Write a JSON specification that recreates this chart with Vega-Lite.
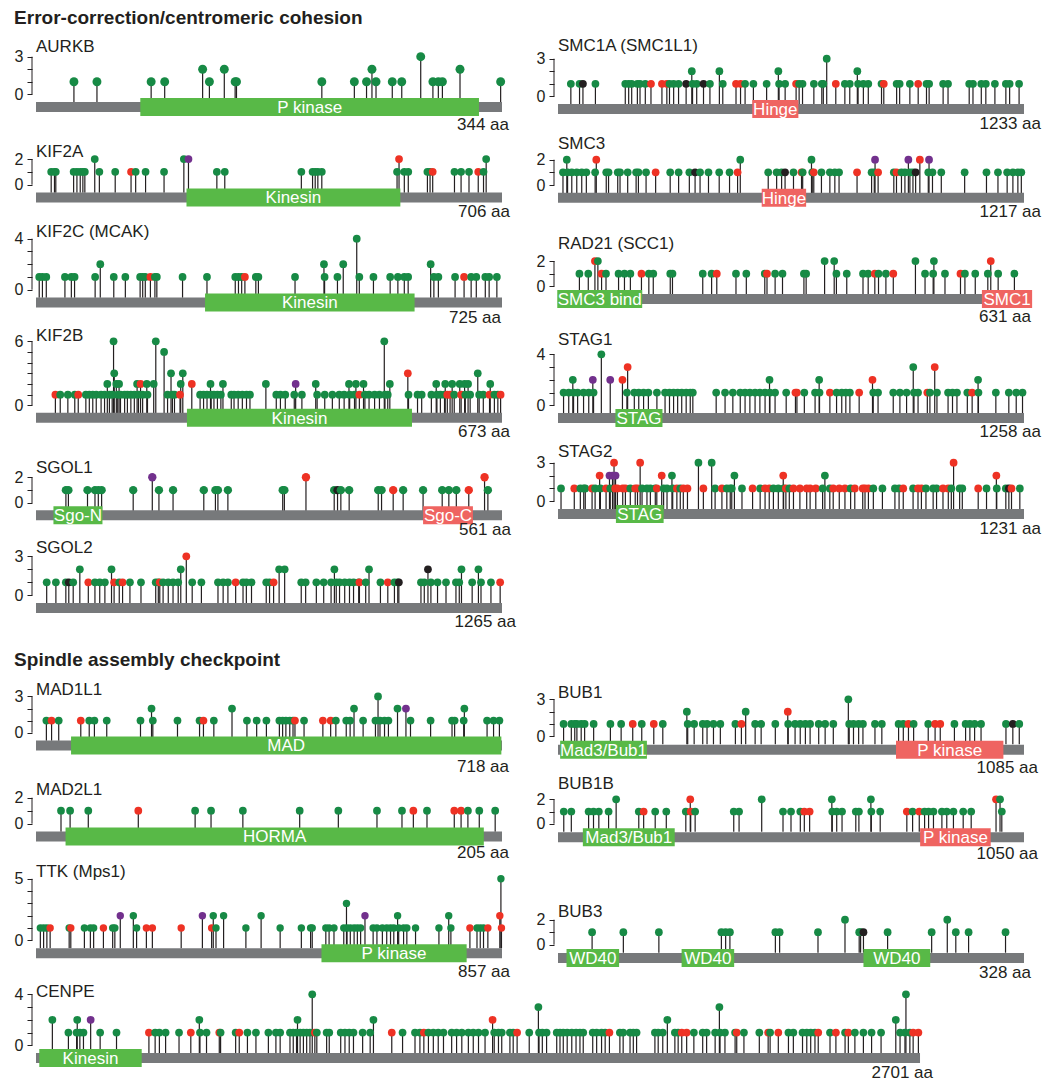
{
"$schema":"https://vega.github.io/schema/vega-lite/v6.json",
"padding":{"left":14,"top":9,"right":5,"bottom":0},
"title":{"text":"Error-correction/centromeric cohesion","anchor":"start","frame":"bounds","fontSize":19,"fontWeight":"bold","color":"#231f20","offset":-6,"baseline":"alphabetic","font":"Liberation Sans"},
"bounds":"flush",
"align":{"row":"each","column":"none"},
"spacing":{"row":0,"column":56},
"columns":2,
"datasets":{
"prot":[
{"gene":"AURKB","name":"AURKB","len":344},{"gene":"KIF2A","name":"KIF2A","len":706},{"gene":"KIF2C","name":"KIF2C (MCAK)","len":725},{"gene":"KIF2B","name":"KIF2B","len":673},{"gene":"SGOL1","name":"SGOL1","len":561},{"gene":"SGOL2","name":"SGOL2","len":1265},{"gene":"SMC1A","name":"SMC1A (SMC1L1)","len":1233},{"gene":"SMC3","name":"SMC3","len":1217},{"gene":"RAD21","name":"RAD21 (SCC1)","len":631},{"gene":"STAG1","name":"STAG1","len":1258},{"gene":"STAG2","name":"STAG2","len":1231},{"gene":"MAD1L1","name":"MAD1L1","len":718},{"gene":"MAD2L1","name":"MAD2L1","len":205},{"gene":"TTK","name":"TTK (Mps1)","len":857},{"gene":"CENPE","name":"CENPE","len":2701},{"gene":"BUB1","name":"BUB1","len":1085},{"gene":"BUB1B","name":"BUB1B","len":1050},{"gene":"BUB3","name":"BUB3","len":328}],
"dom":[
{"gene":"AURKB","name":"P kinase","s":77,"e":327,"kind":"A"},
{"gene":"KIF2A","name":"Kinesin","s":228,"e":552,"kind":"A"},
{"gene":"KIF2C","name":"Kinesin","s":263,"e":589,"kind":"A"},
{"gene":"KIF2B","name":"Kinesin","s":218,"e":543,"kind":"A"},
{"gene":"SGOL1","name":"Sgo-N","s":21,"e":80,"kind":"A"},
{"gene":"SGOL1","name":"Sgo-C","s":466,"e":526,"kind":"B"},
{"gene":"SMC1A","name":"Hinge","s":514,"e":636,"kind":"B"},
{"gene":"SMC3","name":"Hinge","s":532,"e":648,"kind":"B"},
{"gene":"RAD21","name":"SMC3 bind","s":-1,"e":114,"kind":"A"},
{"gene":"RAD21","name":"SMC1","s":574,"e":642,"kind":"B"},
{"gene":"STAG1","name":"STAG","s":155,"e":282,"kind":"A"},
{"gene":"STAG2","name":"STAG","s":153,"e":279,"kind":"A"},
{"gene":"MAD1L1","name":"MAD","s":54,"e":717,"kind":"A"},
{"gene":"MAD2L1","name":"HORMA","s":13,"e":197,"kind":"A"},
{"gene":"TTK","name":"P kinase","s":525,"e":792,"kind":"A"},
{"gene":"CENPE","name":"Kinesin","s":10,"e":323,"kind":"A"},
{"gene":"BUB1","name":"Mad3/Bub1","s":5,"e":207,"kind":"A"},
{"gene":"BUB1","name":"P kinase","s":787,"e":1037,"kind":"B"},
{"gene":"BUB1B","name":"Mad3/Bub1","s":56,"e":263,"kind":"A"},
{"gene":"BUB1B","name":"P kinase","s":816,"e":975,"kind":"B"},
{"gene":"BUB3","name":"WD40","s":6,"e":43,"kind":"A"},
{"gene":"BUB3","name":"WD40","s":87,"e":124,"kind":"A"},
{"gene":"BUB3","name":"WD40","s":215,"e":262,"kind":"A"}],
"AURKB":[{"p":28,"n":1,"t":"M"},{"p":45,"n":1,"t":"M"},{"p":85,"n":1,"t":"M"},{"p":95,"n":1,"t":"M"},{"p":123,"n":2,"t":"M"},{"p":128,"n":1,"t":"M"},{"p":139,"n":2,"t":"M"},{"p":147,"n":1,"t":"M"},{"p":148,"n":1,"t":"M"},{"p":211,"n":1,"t":"M"},{"p":235,"n":1,"t":"M"},{"p":244,"n":1,"t":"M"},{"p":248,"n":2,"t":"M"},{"p":251,"n":1,"t":"M"},{"p":263,"n":1,"t":"M"},{"p":270,"n":1,"t":"M"},{"p":284,"n":3,"t":"M"},{"p":293,"n":1,"t":"M"},{"p":297,"n":1,"t":"M"},{"p":300,"n":1,"t":"M"},{"p":313,"n":2,"t":"M"},{"p":343,"n":1,"t":"M"}],
"KIF2A":[{"p":23,"n":1,"t":"M"},{"p":28,"n":1,"t":"M"},{"p":30,"n":1,"t":"M"},{"p":57,"n":1,"t":"M"},{"p":62,"n":1,"t":"M"},{"p":67,"n":1,"t":"M"},{"p":71,"n":1,"t":"M"},{"p":74,"n":1,"t":"M"},{"p":89,"n":2,"t":"M"},{"p":96,"n":1,"t":"M"},{"p":120,"n":1,"t":"M"},{"p":144,"n":1,"t":"T"},{"p":151,"n":1,"t":"M"},{"p":166,"n":1,"t":"M"},{"p":194,"n":1,"t":"M"},{"p":224,"n":2,"t":"M"},{"p":231,"n":2,"t":"I"},{"p":274,"n":1,"t":"M"},{"p":286,"n":1,"t":"M"},{"p":402,"n":1,"t":"M"},{"p":419,"n":1,"t":"M"},{"p":423,"n":1,"t":"M"},{"p":427,"n":1,"t":"M"},{"p":433,"n":1,"t":"M"},{"p":547,"n":1,"t":"M"},{"p":550,"n":2,"t":"T"},{"p":558,"n":1,"t":"M"},{"p":564,"n":1,"t":"M"},{"p":593,"n":1,"t":"M"},{"p":597,"n":1,"t":"M"},{"p":601,"n":1,"t":"T"},{"p":634,"n":1,"t":"M"},{"p":644,"n":1,"t":"M"},{"p":656,"n":1,"t":"M"},{"p":670,"n":1,"t":"T"},{"p":678,"n":1,"t":"M"},{"p":682,"n":2,"t":"M"}],
"KIF2C":[{"p":5,"n":1,"t":"M"},{"p":10,"n":1,"t":"M"},{"p":16,"n":1,"t":"M"},{"p":45,"n":1,"t":"M"},{"p":55,"n":1,"t":"M"},{"p":60,"n":1,"t":"M"},{"p":92,"n":1,"t":"M"},{"p":100,"n":2,"t":"M"},{"p":121,"n":1,"t":"M"},{"p":139,"n":1,"t":"M"},{"p":162,"n":1,"t":"M"},{"p":166,"n":1,"t":"M"},{"p":170,"n":1,"t":"M"},{"p":178,"n":1,"t":"T"},{"p":185,"n":1,"t":"M"},{"p":188,"n":1,"t":"M"},{"p":228,"n":1,"t":"M"},{"p":266,"n":1,"t":"M"},{"p":310,"n":1,"t":"M"},{"p":315,"n":1,"t":"M"},{"p":320,"n":1,"t":"M"},{"p":325,"n":1,"t":"T"},{"p":342,"n":1,"t":"M"},{"p":346,"n":1,"t":"M"},{"p":403,"n":1,"t":"M"},{"p":448,"n":2,"t":"M"},{"p":449,"n":1,"t":"M"},{"p":469,"n":1,"t":"M"},{"p":478,"n":2,"t":"M"},{"p":499,"n":4,"t":"M"},{"p":503,"n":1,"t":"M"},{"p":525,"n":1,"t":"M"},{"p":551,"n":1,"t":"M"},{"p":563,"n":1,"t":"M"},{"p":573,"n":1,"t":"M"},{"p":579,"n":1,"t":"M"},{"p":614,"n":2,"t":"M"},{"p":619,"n":1,"t":"M"},{"p":626,"n":1,"t":"M"},{"p":652,"n":1,"t":"M"},{"p":666,"n":1,"t":"T"},{"p":677,"n":1,"t":"M"},{"p":685,"n":1,"t":"M"},{"p":699,"n":1,"t":"M"},{"p":705,"n":1,"t":"M"},{"p":717,"n":1,"t":"M"}],
"KIF2B":[{"p":28,"n":1,"t":"T"},{"p":35,"n":1,"t":"M"},{"p":46,"n":1,"t":"M"},{"p":56,"n":1,"t":"M"},{"p":61,"n":1,"t":"T"},{"p":72,"n":1,"t":"M"},{"p":77,"n":1,"t":"M"},{"p":82,"n":1,"t":"M"},{"p":87,"n":1,"t":"M"},{"p":94,"n":1,"t":"M"},{"p":99,"n":1,"t":"M"},{"p":103,"n":2,"t":"M"},{"p":106,"n":1,"t":"M"},{"p":110,"n":1,"t":"M"},{"p":112,"n":6,"t":"M"},{"p":113,"n":3,"t":"M"},{"p":116,"n":2,"t":"M"},{"p":118,"n":1,"t":"M"},{"p":120,"n":2,"t":"M"},{"p":122,"n":1,"t":"M"},{"p":128,"n":1,"t":"M"},{"p":132,"n":1,"t":"M"},{"p":137,"n":1,"t":"M"},{"p":142,"n":1,"t":"M"},{"p":146,"n":2,"t":"M"},{"p":148,"n":1,"t":"M"},{"p":151,"n":2,"t":"T"},{"p":154,"n":1,"t":"M"},{"p":160,"n":2,"t":"M"},{"p":161,"n":1,"t":"M"},{"p":170,"n":2,"t":"M"},{"p":173,"n":6,"t":"M"},{"p":185,"n":5,"t":"M"},{"p":190,"n":1,"t":"M"},{"p":195,"n":3,"t":"M"},{"p":197,"n":1,"t":"M"},{"p":200,"n":1,"t":"M"},{"p":208,"n":1,"t":"T"},{"p":209,"n":2,"t":"M"},{"p":212,"n":3,"t":"M"},{"p":225,"n":2,"t":"T"},{"p":237,"n":1,"t":"M"},{"p":242,"n":1,"t":"M"},{"p":247,"n":1,"t":"M"},{"p":252,"n":2,"t":"M"},{"p":253,"n":1,"t":"M"},{"p":257,"n":1,"t":"M"},{"p":262,"n":1,"t":"M"},{"p":267,"n":1,"t":"M"},{"p":270,"n":2,"t":"M"},{"p":282,"n":1,"t":"M"},{"p":286,"n":1,"t":"M"},{"p":292,"n":1,"t":"M"},{"p":298,"n":1,"t":"M"},{"p":304,"n":1,"t":"M"},{"p":309,"n":1,"t":"M"},{"p":332,"n":2,"t":"M"},{"p":347,"n":1,"t":"M"},{"p":353,"n":1,"t":"M"},{"p":360,"n":1,"t":"M"},{"p":373,"n":1,"t":"M"},{"p":375,"n":2,"t":"I"},{"p":384,"n":1,"t":"M"},{"p":404,"n":2,"t":"M"},{"p":406,"n":1,"t":"M"},{"p":417,"n":1,"t":"M"},{"p":428,"n":1,"t":"M"},{"p":438,"n":1,"t":"M"},{"p":445,"n":1,"t":"M"},{"p":452,"n":2,"t":"M"},{"p":453,"n":1,"t":"M"},{"p":460,"n":1,"t":"M"},{"p":462,"n":2,"t":"M"},{"p":467,"n":1,"t":"T"},{"p":473,"n":2,"t":"M"},{"p":475,"n":1,"t":"M"},{"p":481,"n":1,"t":"M"},{"p":489,"n":1,"t":"M"},{"p":496,"n":1,"t":"M"},{"p":503,"n":6,"t":"M"},{"p":504,"n":1,"t":"M"},{"p":508,"n":1,"t":"M"},{"p":511,"n":2,"t":"M"},{"p":537,"n":3,"t":"T"},{"p":538,"n":1,"t":"M"},{"p":551,"n":1,"t":"M"},{"p":557,"n":1,"t":"M"},{"p":571,"n":1,"t":"M"},{"p":578,"n":2,"t":"M"},{"p":579,"n":1,"t":"M"},{"p":584,"n":1,"t":"M"},{"p":590,"n":1,"t":"M"},{"p":591,"n":2,"t":"M"},{"p":594,"n":1,"t":"T"},{"p":598,"n":1,"t":"T"},{"p":601,"n":2,"t":"M"},{"p":604,"n":1,"t":"M"},{"p":612,"n":2,"t":"M"},{"p":614,"n":1,"t":"T"},{"p":619,"n":2,"t":"M"},{"p":620,"n":1,"t":"M"},{"p":624,"n":2,"t":"M"},{"p":627,"n":1,"t":"M"},{"p":638,"n":3,"t":"M"},{"p":640,"n":1,"t":"M"},{"p":646,"n":1,"t":"M"},{"p":655,"n":1,"t":"T"},{"p":656,"n":2,"t":"M"},{"p":662,"n":1,"t":"M"},{"p":667,"n":1,"t":"M"},{"p":671,"n":1,"t":"T"}],
"SGOL1":[{"p":36,"n":1,"t":"M"},{"p":39,"n":1,"t":"M"},{"p":62,"n":1,"t":"M"},{"p":71,"n":1,"t":"M"},{"p":75,"n":1,"t":"M"},{"p":79,"n":1,"t":"M"},{"p":117,"n":1,"t":"M"},{"p":140,"n":2,"t":"I"},{"p":148,"n":1,"t":"M"},{"p":165,"n":1,"t":"M"},{"p":202,"n":1,"t":"M"},{"p":216,"n":1,"t":"M"},{"p":219,"n":1,"t":"M"},{"p":231,"n":1,"t":"M"},{"p":297,"n":1,"t":"M"},{"p":299,"n":1,"t":"M"},{"p":325,"n":2,"t":"T"},{"p":359,"n":1,"t":"M"},{"p":363,"n":1,"t":"O"},{"p":367,"n":1,"t":"M"},{"p":377,"n":1,"t":"M"},{"p":412,"n":1,"t":"M"},{"p":416,"n":1,"t":"M"},{"p":430,"n":1,"t":"T"},{"p":442,"n":1,"t":"M"},{"p":466,"n":1,"t":"M"},{"p":489,"n":1,"t":"M"},{"p":497,"n":1,"t":"M"},{"p":506,"n":1,"t":"M"},{"p":521,"n":1,"t":"T"},{"p":540,"n":2,"t":"T"},{"p":544,"n":1,"t":"M"}],
"SGOL2":[{"p":29,"n":1,"t":"M"},{"p":54,"n":1,"t":"M"},{"p":81,"n":1,"t":"M"},{"p":89,"n":1,"t":"O"},{"p":101,"n":1,"t":"M"},{"p":119,"n":2,"t":"M"},{"p":142,"n":1,"t":"T"},{"p":160,"n":1,"t":"M"},{"p":173,"n":1,"t":"M"},{"p":187,"n":1,"t":"M"},{"p":205,"n":2,"t":"M"},{"p":212,"n":1,"t":"T"},{"p":226,"n":1,"t":"M"},{"p":235,"n":1,"t":"T"},{"p":255,"n":1,"t":"M"},{"p":285,"n":1,"t":"M"},{"p":325,"n":1,"t":"M"},{"p":332,"n":1,"t":"M"},{"p":336,"n":1,"t":"T"},{"p":345,"n":1,"t":"M"},{"p":359,"n":1,"t":"M"},{"p":372,"n":1,"t":"M"},{"p":386,"n":1,"t":"M"},{"p":393,"n":2,"t":"M"},{"p":408,"n":3,"t":"T"},{"p":424,"n":1,"t":"M"},{"p":449,"n":1,"t":"M"},{"p":494,"n":1,"t":"M"},{"p":508,"n":1,"t":"M"},{"p":521,"n":1,"t":"M"},{"p":542,"n":1,"t":"T"},{"p":562,"n":1,"t":"M"},{"p":571,"n":1,"t":"M"},{"p":585,"n":1,"t":"M"},{"p":625,"n":1,"t":"M"},{"p":634,"n":1,"t":"M"},{"p":645,"n":1,"t":"T"},{"p":660,"n":2,"t":"M"},{"p":675,"n":2,"t":"M"},{"p":720,"n":1,"t":"M"},{"p":732,"n":1,"t":"M"},{"p":761,"n":1,"t":"M"},{"p":781,"n":1,"t":"M"},{"p":801,"n":1,"t":"M"},{"p":810,"n":2,"t":"M"},{"p":815,"n":1,"t":"M"},{"p":824,"n":1,"t":"M"},{"p":838,"n":1,"t":"M"},{"p":851,"n":1,"t":"M"},{"p":862,"n":1,"t":"M"},{"p":876,"n":1,"t":"M"},{"p":878,"n":1,"t":"T"},{"p":895,"n":1,"t":"M"},{"p":904,"n":2,"t":"M"},{"p":935,"n":1,"t":"M"},{"p":955,"n":1,"t":"T"},{"p":973,"n":1,"t":"M"},{"p":982,"n":1,"t":"M"},{"p":985,"n":1,"t":"O"},{"p":1045,"n":1,"t":"M"},{"p":1054,"n":1,"t":"M"},{"p":1064,"n":2,"t":"O"},{"p":1072,"n":1,"t":"M"},{"p":1090,"n":1,"t":"M"},{"p":1113,"n":1,"t":"M"},{"p":1140,"n":1,"t":"M"},{"p":1149,"n":1,"t":"M"},{"p":1155,"n":2,"t":"M"},{"p":1184,"n":1,"t":"M"},{"p":1201,"n":2,"t":"M"},{"p":1208,"n":1,"t":"M"},{"p":1235,"n":1,"t":"M"},{"p":1260,"n":1,"t":"T"}],
"SMC1A":[{"p":34,"n":1,"t":"M"},{"p":57,"n":1,"t":"M"},{"p":66,"n":1,"t":"O"},{"p":99,"n":1,"t":"M"},{"p":178,"n":1,"t":"M"},{"p":187,"n":1,"t":"M"},{"p":195,"n":1,"t":"M"},{"p":210,"n":1,"t":"M"},{"p":217,"n":1,"t":"M"},{"p":231,"n":1,"t":"M"},{"p":246,"n":1,"t":"T"},{"p":275,"n":1,"t":"T"},{"p":288,"n":1,"t":"T"},{"p":295,"n":1,"t":"M"},{"p":306,"n":1,"t":"M"},{"p":319,"n":1,"t":"M"},{"p":339,"n":1,"t":"O"},{"p":354,"n":2,"t":"M"},{"p":356,"n":1,"t":"M"},{"p":367,"n":1,"t":"M"},{"p":385,"n":1,"t":"O"},{"p":402,"n":1,"t":"M"},{"p":427,"n":2,"t":"M"},{"p":436,"n":1,"t":"M"},{"p":471,"n":1,"t":"T"},{"p":483,"n":1,"t":"T"},{"p":495,"n":1,"t":"M"},{"p":517,"n":1,"t":"M"},{"p":552,"n":1,"t":"M"},{"p":583,"n":2,"t":"M"},{"p":585,"n":1,"t":"M"},{"p":601,"n":1,"t":"M"},{"p":630,"n":1,"t":"T"},{"p":638,"n":1,"t":"M"},{"p":647,"n":1,"t":"M"},{"p":677,"n":1,"t":"M"},{"p":698,"n":1,"t":"M"},{"p":702,"n":1,"t":"M"},{"p":711,"n":3,"t":"M"},{"p":735,"n":1,"t":"T"},{"p":759,"n":1,"t":"M"},{"p":772,"n":1,"t":"M"},{"p":792,"n":2,"t":"M"},{"p":794,"n":1,"t":"M"},{"p":808,"n":1,"t":"M"},{"p":821,"n":1,"t":"M"},{"p":856,"n":1,"t":"M"},{"p":862,"n":1,"t":"T"},{"p":896,"n":1,"t":"M"},{"p":904,"n":1,"t":"M"},{"p":931,"n":1,"t":"M"},{"p":953,"n":1,"t":"T"},{"p":975,"n":1,"t":"M"},{"p":982,"n":1,"t":"M"},{"p":1019,"n":1,"t":"M"},{"p":1032,"n":1,"t":"M"},{"p":1088,"n":1,"t":"M"},{"p":1098,"n":1,"t":"M"},{"p":1120,"n":1,"t":"M"},{"p":1132,"n":1,"t":"M"},{"p":1156,"n":1,"t":"M"},{"p":1185,"n":1,"t":"M"},{"p":1195,"n":1,"t":"M"},{"p":1220,"n":1,"t":"M"}],
"SMC3":[{"p":13,"n":1,"t":"M"},{"p":23,"n":2,"t":"M"},{"p":25,"n":1,"t":"M"},{"p":36,"n":1,"t":"M"},{"p":49,"n":1,"t":"M"},{"p":62,"n":1,"t":"M"},{"p":74,"n":1,"t":"M"},{"p":97,"n":1,"t":"M"},{"p":100,"n":2,"t":"T"},{"p":126,"n":1,"t":"M"},{"p":132,"n":1,"t":"M"},{"p":156,"n":1,"t":"M"},{"p":162,"n":1,"t":"M"},{"p":182,"n":1,"t":"M"},{"p":204,"n":1,"t":"M"},{"p":210,"n":1,"t":"M"},{"p":230,"n":1,"t":"M"},{"p":255,"n":1,"t":"T"},{"p":293,"n":1,"t":"M"},{"p":315,"n":1,"t":"M"},{"p":343,"n":1,"t":"M"},{"p":358,"n":1,"t":"O"},{"p":371,"n":1,"t":"M"},{"p":393,"n":1,"t":"M"},{"p":421,"n":1,"t":"M"},{"p":448,"n":1,"t":"M"},{"p":469,"n":1,"t":"T"},{"p":476,"n":2,"t":"M"},{"p":549,"n":1,"t":"M"},{"p":571,"n":1,"t":"M"},{"p":584,"n":1,"t":"M"},{"p":593,"n":1,"t":"O"},{"p":615,"n":1,"t":"M"},{"p":636,"n":1,"t":"T"},{"p":639,"n":1,"t":"M"},{"p":662,"n":2,"t":"M"},{"p":664,"n":1,"t":"M"},{"p":668,"n":1,"t":"T"},{"p":688,"n":1,"t":"M"},{"p":710,"n":1,"t":"M"},{"p":723,"n":1,"t":"M"},{"p":734,"n":1,"t":"M"},{"p":781,"n":1,"t":"T"},{"p":819,"n":1,"t":"M"},{"p":826,"n":1,"t":"M"},{"p":828,"n":2,"t":"I"},{"p":836,"n":1,"t":"T"},{"p":877,"n":1,"t":"M"},{"p":884,"n":1,"t":"T"},{"p":897,"n":1,"t":"M"},{"p":906,"n":1,"t":"M"},{"p":915,"n":2,"t":"I"},{"p":919,"n":1,"t":"M"},{"p":927,"n":1,"t":"M"},{"p":934,"n":1,"t":"O"},{"p":945,"n":2,"t":"T"},{"p":967,"n":1,"t":"M"},{"p":969,"n":2,"t":"I"},{"p":978,"n":1,"t":"M"},{"p":1001,"n":1,"t":"M"},{"p":1062,"n":1,"t":"M"},{"p":1119,"n":1,"t":"M"},{"p":1149,"n":1,"t":"M"},{"p":1173,"n":1,"t":"M"},{"p":1188,"n":1,"t":"M"},{"p":1201,"n":1,"t":"M"},{"p":1210,"n":1,"t":"M"}],
"RAD21":[{"p":29,"n":1,"t":"M"},{"p":41,"n":1,"t":"M"},{"p":50,"n":2,"t":"T"},{"p":54,"n":2,"t":"M"},{"p":59,"n":1,"t":"T"},{"p":65,"n":1,"t":"M"},{"p":82,"n":1,"t":"M"},{"p":90,"n":1,"t":"M"},{"p":98,"n":1,"t":"M"},{"p":113,"n":1,"t":"T"},{"p":123,"n":1,"t":"M"},{"p":129,"n":1,"t":"M"},{"p":152,"n":1,"t":"M"},{"p":155,"n":1,"t":"M"},{"p":196,"n":1,"t":"M"},{"p":208,"n":1,"t":"M"},{"p":215,"n":1,"t":"T"},{"p":241,"n":1,"t":"M"},{"p":255,"n":1,"t":"M"},{"p":280,"n":1,"t":"M"},{"p":283,"n":1,"t":"T"},{"p":294,"n":1,"t":"M"},{"p":304,"n":1,"t":"M"},{"p":333,"n":1,"t":"M"},{"p":336,"n":1,"t":"M"},{"p":361,"n":2,"t":"M"},{"p":374,"n":2,"t":"M"},{"p":377,"n":1,"t":"M"},{"p":391,"n":1,"t":"M"},{"p":413,"n":1,"t":"M"},{"p":420,"n":1,"t":"M"},{"p":429,"n":1,"t":"T"},{"p":434,"n":1,"t":"M"},{"p":444,"n":1,"t":"M"},{"p":454,"n":1,"t":"T"},{"p":484,"n":2,"t":"M"},{"p":497,"n":1,"t":"M"},{"p":508,"n":1,"t":"M"},{"p":509,"n":2,"t":"M"},{"p":524,"n":1,"t":"M"},{"p":545,"n":1,"t":"T"},{"p":551,"n":1,"t":"M"},{"p":565,"n":1,"t":"M"},{"p":582,"n":1,"t":"M"},{"p":586,"n":2,"t":"T"},{"p":596,"n":1,"t":"M"},{"p":618,"n":1,"t":"M"}],
"STAG1":[{"p":15,"n":1,"t":"M"},{"p":29,"n":1,"t":"M"},{"p":40,"n":2,"t":"M"},{"p":42,"n":1,"t":"M"},{"p":53,"n":1,"t":"M"},{"p":69,"n":1,"t":"M"},{"p":83,"n":1,"t":"M"},{"p":94,"n":2,"t":"I"},{"p":96,"n":1,"t":"M"},{"p":117,"n":4,"t":"M"},{"p":141,"n":2,"t":"I"},{"p":174,"n":2,"t":"T"},{"p":186,"n":1,"t":"M"},{"p":188,"n":3,"t":"T"},{"p":206,"n":1,"t":"M"},{"p":218,"n":1,"t":"M"},{"p":231,"n":1,"t":"M"},{"p":244,"n":1,"t":"M"},{"p":267,"n":1,"t":"M"},{"p":289,"n":1,"t":"M"},{"p":301,"n":1,"t":"M"},{"p":312,"n":1,"t":"M"},{"p":323,"n":1,"t":"M"},{"p":334,"n":1,"t":"M"},{"p":346,"n":1,"t":"M"},{"p":357,"n":1,"t":"M"},{"p":364,"n":1,"t":"M"},{"p":427,"n":1,"t":"M"},{"p":451,"n":1,"t":"M"},{"p":472,"n":1,"t":"M"},{"p":492,"n":1,"t":"M"},{"p":505,"n":1,"t":"M"},{"p":518,"n":1,"t":"M"},{"p":532,"n":1,"t":"M"},{"p":545,"n":1,"t":"M"},{"p":559,"n":1,"t":"M"},{"p":571,"n":2,"t":"M"},{"p":572,"n":1,"t":"M"},{"p":586,"n":1,"t":"M"},{"p":616,"n":1,"t":"M"},{"p":641,"n":1,"t":"T"},{"p":645,"n":1,"t":"T"},{"p":665,"n":1,"t":"M"},{"p":694,"n":1,"t":"M"},{"p":705,"n":2,"t":"M"},{"p":706,"n":1,"t":"M"},{"p":734,"n":1,"t":"T"},{"p":752,"n":1,"t":"M"},{"p":766,"n":1,"t":"M"},{"p":777,"n":1,"t":"M"},{"p":788,"n":1,"t":"M"},{"p":813,"n":1,"t":"T"},{"p":849,"n":2,"t":"T"},{"p":851,"n":1,"t":"M"},{"p":864,"n":1,"t":"M"},{"p":905,"n":1,"t":"M"},{"p":923,"n":1,"t":"M"},{"p":941,"n":1,"t":"M"},{"p":959,"n":3,"t":"M"},{"p":961,"n":1,"t":"M"},{"p":972,"n":1,"t":"M"},{"p":997,"n":1,"t":"T"},{"p":1004,"n":1,"t":"M"},{"p":1017,"n":3,"t":"T"},{"p":1023,"n":1,"t":"M"},{"p":1053,"n":1,"t":"M"},{"p":1065,"n":1,"t":"M"},{"p":1077,"n":1,"t":"M"},{"p":1105,"n":1,"t":"M"},{"p":1118,"n":1,"t":"T"},{"p":1134,"n":2,"t":"M"},{"p":1135,"n":1,"t":"M"},{"p":1182,"n":1,"t":"M"},{"p":1217,"n":1,"t":"M"},{"p":1237,"n":1,"t":"M"},{"p":1254,"n":1,"t":"M"}],
"STAG2":[{"p":8,"n":1,"t":"M"},{"p":43,"n":1,"t":"T"},{"p":59,"n":1,"t":"M"},{"p":68,"n":1,"t":"M"},{"p":72,"n":1,"t":"M"},{"p":90,"n":1,"t":"T"},{"p":98,"n":1,"t":"M"},{"p":110,"n":2,"t":"T"},{"p":112,"n":1,"t":"M"},{"p":127,"n":1,"t":"T"},{"p":138,"n":1,"t":"M"},{"p":148,"n":3,"t":"T"},{"p":136,"n":2,"t":"I"},{"p":144,"n":2,"t":"I"},{"p":152,"n":2,"t":"I"},{"p":151,"n":1,"t":"T"},{"p":157,"n":1,"t":"T"},{"p":171,"n":1,"t":"T"},{"p":178,"n":1,"t":"T"},{"p":191,"n":1,"t":"M"},{"p":204,"n":1,"t":"T"},{"p":210,"n":1,"t":"T"},{"p":217,"n":3,"t":"T"},{"p":222,"n":1,"t":"M"},{"p":235,"n":1,"t":"M"},{"p":244,"n":1,"t":"M"},{"p":257,"n":1,"t":"M"},{"p":261,"n":1,"t":"T"},{"p":274,"n":2,"t":"T"},{"p":279,"n":1,"t":"M"},{"p":288,"n":1,"t":"M"},{"p":301,"n":2,"t":"M"},{"p":303,"n":1,"t":"M"},{"p":314,"n":1,"t":"T"},{"p":323,"n":1,"t":"M"},{"p":331,"n":1,"t":"T"},{"p":342,"n":1,"t":"T"},{"p":371,"n":3,"t":"M"},{"p":384,"n":1,"t":"T"},{"p":406,"n":3,"t":"M"},{"p":415,"n":1,"t":"M"},{"p":433,"n":1,"t":"T"},{"p":446,"n":1,"t":"M"},{"p":455,"n":1,"t":"M"},{"p":459,"n":1,"t":"M"},{"p":466,"n":2,"t":"M"},{"p":486,"n":1,"t":"M"},{"p":514,"n":1,"t":"T"},{"p":534,"n":1,"t":"M"},{"p":547,"n":1,"t":"T"},{"p":558,"n":1,"t":"T"},{"p":569,"n":1,"t":"M"},{"p":582,"n":1,"t":"M"},{"p":595,"n":2,"t":"T"},{"p":596,"n":1,"t":"M"},{"p":602,"n":1,"t":"T"},{"p":611,"n":1,"t":"M"},{"p":622,"n":1,"t":"T"},{"p":639,"n":1,"t":"T"},{"p":657,"n":1,"t":"T"},{"p":666,"n":1,"t":"T"},{"p":681,"n":1,"t":"T"},{"p":699,"n":1,"t":"M"},{"p":705,"n":2,"t":"M"},{"p":718,"n":1,"t":"M"},{"p":727,"n":1,"t":"T"},{"p":743,"n":1,"t":"T"},{"p":758,"n":1,"t":"T"},{"p":773,"n":1,"t":"M"},{"p":784,"n":1,"t":"T"},{"p":805,"n":1,"t":"T"},{"p":811,"n":1,"t":"T"},{"p":820,"n":1,"t":"T"},{"p":833,"n":1,"t":"M"},{"p":857,"n":1,"t":"M"},{"p":890,"n":1,"t":"M"},{"p":901,"n":1,"t":"M"},{"p":912,"n":1,"t":"T"},{"p":938,"n":1,"t":"M"},{"p":951,"n":1,"t":"T"},{"p":960,"n":1,"t":"T"},{"p":972,"n":1,"t":"M"},{"p":991,"n":1,"t":"M"},{"p":1000,"n":1,"t":"M"},{"p":1017,"n":1,"t":"T"},{"p":1031,"n":1,"t":"T"},{"p":1039,"n":1,"t":"M"},{"p":1045,"n":3,"t":"T"},{"p":1061,"n":1,"t":"M"},{"p":1068,"n":1,"t":"M"},{"p":1110,"n":1,"t":"T"},{"p":1132,"n":1,"t":"M"},{"p":1158,"n":2,"t":"T"},{"p":1159,"n":1,"t":"M"},{"p":1183,"n":1,"t":"M"},{"p":1191,"n":1,"t":"O"},{"p":1198,"n":1,"t":"T"},{"p":1220,"n":1,"t":"M"}],
"MAD1L1":[{"p":16,"n":1,"t":"M"},{"p":24,"n":1,"t":"T"},{"p":35,"n":1,"t":"M"},{"p":69,"n":1,"t":"T"},{"p":82,"n":1,"t":"M"},{"p":90,"n":1,"t":"M"},{"p":109,"n":1,"t":"M"},{"p":161,"n":1,"t":"M"},{"p":178,"n":2,"t":"M"},{"p":180,"n":1,"t":"M"},{"p":218,"n":1,"t":"M"},{"p":252,"n":1,"t":"M"},{"p":258,"n":1,"t":"T"},{"p":274,"n":1,"t":"M"},{"p":302,"n":2,"t":"M"},{"p":325,"n":1,"t":"M"},{"p":340,"n":1,"t":"M"},{"p":355,"n":1,"t":"M"},{"p":375,"n":1,"t":"M"},{"p":380,"n":1,"t":"M"},{"p":385,"n":1,"t":"M"},{"p":391,"n":1,"t":"M"},{"p":396,"n":1,"t":"M"},{"p":399,"n":1,"t":"T"},{"p":413,"n":1,"t":"M"},{"p":442,"n":1,"t":"T"},{"p":454,"n":1,"t":"T"},{"p":462,"n":1,"t":"M"},{"p":478,"n":1,"t":"M"},{"p":484,"n":1,"t":"M"},{"p":490,"n":2,"t":"M"},{"p":504,"n":1,"t":"M"},{"p":523,"n":1,"t":"M"},{"p":527,"n":3,"t":"M"},{"p":530,"n":1,"t":"M"},{"p":537,"n":1,"t":"M"},{"p":543,"n":1,"t":"M"},{"p":557,"n":2,"t":"M"},{"p":570,"n":2,"t":"I"},{"p":577,"n":1,"t":"M"},{"p":608,"n":1,"t":"M"},{"p":641,"n":1,"t":"M"},{"p":645,"n":1,"t":"M"},{"p":659,"n":1,"t":"M"},{"p":660,"n":2,"t":"M"},{"p":695,"n":1,"t":"M"},{"p":705,"n":1,"t":"M"},{"p":714,"n":1,"t":"M"}],
"MAD2L1":[{"p":11,"n":1,"t":"M"},{"p":15,"n":1,"t":"M"},{"p":23,"n":1,"t":"M"},{"p":45,"n":1,"t":"T"},{"p":70,"n":1,"t":"M"},{"p":77,"n":1,"t":"M"},{"p":91,"n":1,"t":"M"},{"p":116,"n":1,"t":"M"},{"p":133,"n":1,"t":"M"},{"p":150,"n":1,"t":"M"},{"p":161,"n":1,"t":"M"},{"p":166,"n":1,"t":"T"},{"p":172,"n":1,"t":"M"},{"p":184,"n":1,"t":"T"},{"p":187,"n":1,"t":"T"},{"p":190,"n":1,"t":"M"},{"p":195,"n":1,"t":"M"},{"p":202,"n":1,"t":"M"}],
"TTK":[{"p":8,"n":1,"t":"M"},{"p":14,"n":1,"t":"M"},{"p":20,"n":1,"t":"M"},{"p":26,"n":1,"t":"T"},{"p":61,"n":1,"t":"M"},{"p":64,"n":1,"t":"T"},{"p":89,"n":1,"t":"M"},{"p":100,"n":1,"t":"M"},{"p":106,"n":1,"t":"M"},{"p":124,"n":1,"t":"T"},{"p":141,"n":1,"t":"M"},{"p":145,"n":1,"t":"M"},{"p":155,"n":2,"t":"I"},{"p":179,"n":2,"t":"M"},{"p":185,"n":1,"t":"M"},{"p":203,"n":1,"t":"T"},{"p":214,"n":1,"t":"T"},{"p":267,"n":1,"t":"T"},{"p":306,"n":2,"t":"I"},{"p":323,"n":1,"t":"T"},{"p":326,"n":2,"t":"M"},{"p":331,"n":1,"t":"M"},{"p":345,"n":2,"t":"M"},{"p":386,"n":1,"t":"M"},{"p":414,"n":2,"t":"M"},{"p":449,"n":1,"t":"M"},{"p":488,"n":1,"t":"M"},{"p":505,"n":1,"t":"M"},{"p":508,"n":1,"t":"M"},{"p":533,"n":1,"t":"M"},{"p":539,"n":1,"t":"M"},{"p":548,"n":1,"t":"M"},{"p":566,"n":1,"t":"M"},{"p":571,"n":3,"t":"M"},{"p":572,"n":1,"t":"M"},{"p":578,"n":1,"t":"M"},{"p":585,"n":1,"t":"M"},{"p":591,"n":1,"t":"M"},{"p":597,"n":1,"t":"M"},{"p":605,"n":2,"t":"I"},{"p":620,"n":1,"t":"M"},{"p":627,"n":1,"t":"M"},{"p":637,"n":1,"t":"M"},{"p":645,"n":1,"t":"M"},{"p":652,"n":1,"t":"M"},{"p":658,"n":1,"t":"M"},{"p":665,"n":2,"t":"M"},{"p":667,"n":1,"t":"M"},{"p":676,"n":1,"t":"M"},{"p":682,"n":1,"t":"M"},{"p":698,"n":1,"t":"M"},{"p":741,"n":1,"t":"M"},{"p":759,"n":2,"t":"M"},{"p":763,"n":1,"t":"M"},{"p":798,"n":1,"t":"T"},{"p":811,"n":1,"t":"M"},{"p":817,"n":1,"t":"M"},{"p":823,"n":1,"t":"M"},{"p":831,"n":1,"t":"T"},{"p":855,"n":5,"t":"M"},{"p":853,"n":2,"t":"T"},{"p":856,"n":1,"t":"T"}],
"CENPE":[{"p":50,"n":2,"t":"M"},{"p":99,"n":1,"t":"M"},{"p":124,"n":1,"t":"M"},{"p":126,"n":2,"t":"M"},{"p":134,"n":1,"t":"M"},{"p":145,"n":1,"t":"M"},{"p":167,"n":2,"t":"I"},{"p":196,"n":1,"t":"M"},{"p":246,"n":1,"t":"M"},{"p":345,"n":1,"t":"T"},{"p":364,"n":1,"t":"M"},{"p":377,"n":1,"t":"M"},{"p":396,"n":1,"t":"M"},{"p":437,"n":1,"t":"M"},{"p":473,"n":1,"t":"T"},{"p":499,"n":2,"t":"M"},{"p":501,"n":1,"t":"M"},{"p":521,"n":1,"t":"M"},{"p":560,"n":1,"t":"T"},{"p":564,"n":1,"t":"M"},{"p":610,"n":1,"t":"M"},{"p":621,"n":1,"t":"T"},{"p":646,"n":1,"t":"M"},{"p":672,"n":1,"t":"M"},{"p":710,"n":1,"t":"M"},{"p":733,"n":1,"t":"M"},{"p":746,"n":1,"t":"M"},{"p":776,"n":1,"t":"M"},{"p":786,"n":1,"t":"M"},{"p":796,"n":1,"t":"M"},{"p":799,"n":2,"t":"M"},{"p":807,"n":1,"t":"M"},{"p":817,"n":1,"t":"M"},{"p":827,"n":1,"t":"M"},{"p":837,"n":1,"t":"M"},{"p":844,"n":4,"t":"M"},{"p":852,"n":1,"t":"T"},{"p":858,"n":1,"t":"M"},{"p":888,"n":1,"t":"M"},{"p":896,"n":1,"t":"M"},{"p":931,"n":1,"t":"M"},{"p":944,"n":1,"t":"M"},{"p":957,"n":1,"t":"M"},{"p":970,"n":1,"t":"M"},{"p":998,"n":1,"t":"M"},{"p":1021,"n":1,"t":"M"},{"p":1031,"n":2,"t":"M"},{"p":1087,"n":1,"t":"T"},{"p":1120,"n":1,"t":"M"},{"p":1158,"n":1,"t":"M"},{"p":1173,"n":1,"t":"M"},{"p":1185,"n":1,"t":"T"},{"p":1199,"n":1,"t":"M"},{"p":1214,"n":1,"t":"M"},{"p":1229,"n":1,"t":"M"},{"p":1245,"n":1,"t":"M"},{"p":1270,"n":1,"t":"M"},{"p":1285,"n":1,"t":"M"},{"p":1301,"n":1,"t":"M"},{"p":1321,"n":1,"t":"M"},{"p":1336,"n":1,"t":"M"},{"p":1352,"n":1,"t":"M"},{"p":1372,"n":1,"t":"M"},{"p":1395,"n":2,"t":"T"},{"p":1400,"n":1,"t":"M"},{"p":1413,"n":1,"t":"M"},{"p":1423,"n":1,"t":"M"},{"p":1448,"n":1,"t":"M"},{"p":1458,"n":1,"t":"M"},{"p":1470,"n":1,"t":"T"},{"p":1507,"n":1,"t":"M"},{"p":1535,"n":3,"t":"M"},{"p":1537,"n":1,"t":"M"},{"p":1547,"n":1,"t":"M"},{"p":1560,"n":1,"t":"M"},{"p":1591,"n":1,"t":"M"},{"p":1601,"n":1,"t":"M"},{"p":1611,"n":1,"t":"M"},{"p":1623,"n":1,"t":"M"},{"p":1637,"n":1,"t":"M"},{"p":1650,"n":1,"t":"M"},{"p":1662,"n":1,"t":"M"},{"p":1672,"n":1,"t":"M"},{"p":1701,"n":1,"t":"M"},{"p":1713,"n":1,"t":"M"},{"p":1728,"n":1,"t":"M"},{"p":1739,"n":1,"t":"M"},{"p":1752,"n":1,"t":"T"},{"p":1784,"n":1,"t":"M"},{"p":1794,"n":1,"t":"M"},{"p":1815,"n":1,"t":"M"},{"p":1825,"n":1,"t":"M"},{"p":1835,"n":1,"t":"M"},{"p":1891,"n":1,"t":"M"},{"p":1901,"n":1,"t":"M"},{"p":1915,"n":1,"t":"M"},{"p":1929,"n":2,"t":"M"},{"p":1952,"n":1,"t":"M"},{"p":1962,"n":1,"t":"M"},{"p":1973,"n":1,"t":"T"},{"p":1988,"n":1,"t":"T"},{"p":2010,"n":1,"t":"M"},{"p":2037,"n":1,"t":"M"},{"p":2049,"n":1,"t":"M"},{"p":2075,"n":1,"t":"M"},{"p":2088,"n":3,"t":"M"},{"p":2090,"n":1,"t":"M"},{"p":2105,"n":1,"t":"M"},{"p":2136,"n":1,"t":"M"},{"p":2141,"n":1,"t":"T"},{"p":2163,"n":1,"t":"M"},{"p":2210,"n":1,"t":"M"},{"p":2237,"n":1,"t":"T"},{"p":2243,"n":1,"t":"M"},{"p":2268,"n":1,"t":"T"},{"p":2299,"n":1,"t":"M"},{"p":2314,"n":1,"t":"M"},{"p":2342,"n":1,"t":"M"},{"p":2355,"n":1,"t":"M"},{"p":2367,"n":1,"t":"M"},{"p":2380,"n":1,"t":"M"},{"p":2390,"n":1,"t":"T"},{"p":2426,"n":1,"t":"M"},{"p":2444,"n":1,"t":"T"},{"p":2472,"n":1,"t":"M"},{"p":2482,"n":1,"t":"T"},{"p":2502,"n":1,"t":"M"},{"p":2528,"n":1,"t":"M"},{"p":2553,"n":1,"t":"M"},{"p":2582,"n":1,"t":"M"},{"p":2627,"n":2,"t":"M"},{"p":2640,"n":1,"t":"M"},{"p":2655,"n":1,"t":"M"},{"p":2658,"n":4,"t":"M"},{"p":2670,"n":1,"t":"M"},{"p":2680,"n":1,"t":"T"},{"p":2696,"n":1,"t":"T"}],
"BUB1":[{"p":13,"n":1,"t":"M"},{"p":31,"n":1,"t":"M"},{"p":39,"n":1,"t":"M"},{"p":44,"n":1,"t":"M"},{"p":54,"n":1,"t":"M"},{"p":62,"n":1,"t":"M"},{"p":83,"n":1,"t":"M"},{"p":122,"n":1,"t":"M"},{"p":147,"n":1,"t":"M"},{"p":174,"n":1,"t":"T"},{"p":195,"n":1,"t":"M"},{"p":223,"n":1,"t":"T"},{"p":244,"n":1,"t":"M"},{"p":300,"n":2,"t":"M"},{"p":302,"n":1,"t":"M"},{"p":317,"n":1,"t":"M"},{"p":337,"n":1,"t":"M"},{"p":347,"n":1,"t":"M"},{"p":362,"n":1,"t":"M"},{"p":378,"n":1,"t":"M"},{"p":413,"n":1,"t":"M"},{"p":427,"n":1,"t":"T"},{"p":437,"n":2,"t":"M"},{"p":459,"n":1,"t":"M"},{"p":473,"n":1,"t":"M"},{"p":506,"n":1,"t":"M"},{"p":535,"n":2,"t":"T"},{"p":536,"n":1,"t":"M"},{"p":552,"n":1,"t":"M"},{"p":564,"n":1,"t":"M"},{"p":576,"n":1,"t":"M"},{"p":587,"n":1,"t":"M"},{"p":607,"n":1,"t":"M"},{"p":622,"n":1,"t":"M"},{"p":641,"n":1,"t":"M"},{"p":676,"n":3,"t":"M"},{"p":678,"n":1,"t":"M"},{"p":688,"n":1,"t":"M"},{"p":700,"n":1,"t":"M"},{"p":710,"n":1,"t":"M"},{"p":738,"n":1,"t":"M"},{"p":754,"n":1,"t":"M"},{"p":793,"n":1,"t":"M"},{"p":804,"n":1,"t":"M"},{"p":816,"n":1,"t":"T"},{"p":828,"n":1,"t":"M"},{"p":862,"n":1,"t":"M"},{"p":878,"n":1,"t":"T"},{"p":890,"n":1,"t":"T"},{"p":923,"n":1,"t":"M"},{"p":949,"n":1,"t":"M"},{"p":959,"n":1,"t":"M"},{"p":970,"n":1,"t":"M"},{"p":985,"n":1,"t":"M"},{"p":1043,"n":1,"t":"M"},{"p":1059,"n":1,"t":"O"},{"p":1074,"n":1,"t":"M"}],
"BUB1B":[{"p":13,"n":1,"t":"M"},{"p":30,"n":1,"t":"M"},{"p":69,"n":1,"t":"M"},{"p":80,"n":1,"t":"M"},{"p":92,"n":1,"t":"M"},{"p":114,"n":1,"t":"M"},{"p":131,"n":2,"t":"M"},{"p":182,"n":1,"t":"M"},{"p":193,"n":1,"t":"T"},{"p":219,"n":1,"t":"M"},{"p":244,"n":1,"t":"M"},{"p":288,"n":1,"t":"M"},{"p":298,"n":2,"t":"T"},{"p":299,"n":1,"t":"T"},{"p":309,"n":1,"t":"M"},{"p":396,"n":1,"t":"M"},{"p":408,"n":1,"t":"M"},{"p":459,"n":2,"t":"M"},{"p":507,"n":1,"t":"M"},{"p":525,"n":1,"t":"M"},{"p":546,"n":1,"t":"M"},{"p":555,"n":1,"t":"T"},{"p":567,"n":1,"t":"T"},{"p":617,"n":2,"t":"M"},{"p":618,"n":1,"t":"M"},{"p":628,"n":1,"t":"M"},{"p":640,"n":1,"t":"M"},{"p":671,"n":1,"t":"M"},{"p":678,"n":1,"t":"M"},{"p":705,"n":2,"t":"M"},{"p":706,"n":1,"t":"M"},{"p":726,"n":1,"t":"M"},{"p":786,"n":1,"t":"T"},{"p":799,"n":1,"t":"M"},{"p":814,"n":1,"t":"T"},{"p":826,"n":1,"t":"M"},{"p":835,"n":1,"t":"M"},{"p":846,"n":1,"t":"M"},{"p":865,"n":1,"t":"M"},{"p":876,"n":1,"t":"M"},{"p":891,"n":1,"t":"M"},{"p":913,"n":1,"t":"M"},{"p":931,"n":1,"t":"M"},{"p":987,"n":2,"t":"T"},{"p":996,"n":2,"t":"M"},{"p":1000,"n":1,"t":"M"}],
"BUB3":[{"p":24,"n":1,"t":"M"},{"p":46,"n":1,"t":"M"},{"p":71,"n":1,"t":"M"},{"p":115,"n":1,"t":"M"},{"p":118,"n":1,"t":"M"},{"p":121,"n":1,"t":"M"},{"p":153,"n":1,"t":"M"},{"p":156,"n":1,"t":"M"},{"p":183,"n":1,"t":"M"},{"p":202,"n":2,"t":"M"},{"p":212,"n":1,"t":"M"},{"p":213,"n":1,"t":"M"},{"p":215,"n":1,"t":"O"},{"p":232,"n":1,"t":"M"},{"p":263,"n":1,"t":"M"},{"p":274,"n":2,"t":"M"},{"p":280,"n":1,"t":"M"},{"p":289,"n":1,"t":"M"},{"p":315,"n":1,"t":"M"}],
"blank":[{"gene":"none"}]
},
"concat":[
{"width":466,"height":97,"data":{"name":"AURKB"},"layer":[
{"mark":{"type":"rule","color":"#231f20","strokeWidth":1.2,"y2Offset":8},"encoding":{"x":{"field":"p","type":"quantitative","scale":{"domain":[0,344],"nice":false,"zero":false},"axis":null},"y":{"field":"n","type":"quantitative","scale":{"domain":[-3.168,4.573],"nice":false,"zero":false},"axis":{"values":[0,1,2,3],"tickCount":50,"format":"d","labelExpr":"datum.value==0||datum.value==3?datum.label:''","title":null}},"y2":{"datum":0}}},
{"data":{"name":"prot"},"transform":[{"filter":"datum.gene=='AURKB'"}],"mark":{"type":"rule","color":"#77797b","strokeWidth":10,"yOffset":12.7},"encoding":{"x":{"field":"len","type":"quantitative","axis":null},"x2":{"datum":0},"y":{"datum":0,"type":"quantitative"}}},
{"data":{"name":"dom"},"transform":[{"filter":"datum.gene=='AURKB'"}],"mark":{"type":"rule","strokeWidth":18,"yOffset":12.7},"encoding":{"x":{"field":"s","type":"quantitative","axis":null},"x2":{"field":"e"},"y":{"datum":0,"type":"quantitative"},"stroke":{"field":"kind","type":"nominal","scale":{"domain":["A","B"],"range":["#58b947","#ef6461"]},"legend":null}}},
{"data":{"name":"dom"},"transform":[{"filter":"datum.gene=='AURKB'"},{"calculate":"(datum.s+datum.e)/2","as":"mid"}],"mark":{"type":"text","color":"#ffffff","fontSize":17,"baseline":"alphabetic","dy":18.7},"encoding":{"x":{"field":"mid","type":"quantitative","axis":null},"y":{"datum":0,"type":"quantitative"},"text":{"field":"name","type":"nominal"}}},
{"mark":{"type":"point","filled":true,"opacity":1,"size":80,"strokeWidth":0},"encoding":{"x":{"field":"p","type":"quantitative","scale":{"domain":[0,344],"nice":false,"zero":false},"axis":null},"y":{"field":"n","type":"quantitative"},"color":{"field":"t","type":"nominal","scale":{"domain":["M","T","I","O"],"range":["#178a45","#ee3224","#72308d","#231f20"]},"legend":null}}},
{"data":{"name":"prot"},"transform":[{"filter":"datum.gene=='AURKB'"}],"mark":{"type":"text","align":"left","baseline":"alphabetic","fontSize":17,"color":"#231f20","dy":-4.7},"encoding":{"x":{"datum":0,"type":"quantitative","axis":null},"y":{"datum":3,"type":"quantitative"},"text":{"field":"name","type":"nominal"}}},
{"data":{"name":"prot"},"transform":[{"filter":"datum.gene=='AURKB'"},{"calculate":"datum.len+' aa'","as":"lab"}],"mark":{"type":"text","align":"right","baseline":"alphabetic","fontSize":17,"color":"#231f20","dx":7,"dy":36},"encoding":{"x":{"field":"len","type":"quantitative","axis":null},"y":{"datum":0,"type":"quantitative"},"text":{"field":"lab","type":"nominal"}}},
{"data":{"name":"prot"},"transform":[{"filter":"datum.gene=='AURKB'"}],"mark":{"type":"rule","color":"#231f20","strokeWidth":1,"xOffset":-4},"encoding":{"x":{"datum":0,"type":"quantitative","axis":null},"y":{"datum":0,"type":"quantitative"},"y2":{"datum":3}}}
]},
{"width":466,"height":97,"data":{"name":"SMC1A"},"layer":[
{"mark":{"type":"rule","color":"#231f20","strokeWidth":1.2,"y2Offset":8},"encoding":{"x":{"field":"p","type":"quantitative","scale":{"domain":[0,1233],"nice":false,"zero":false},"axis":null},"y":{"field":"n","type":"quantitative","scale":{"domain":[-3.009,4.733],"nice":false,"zero":false},"axis":{"values":[0,1,2,3],"tickCount":50,"format":"d","labelExpr":"datum.value==0||datum.value==3?datum.label:''","title":null}},"y2":{"datum":0}}},
{"data":{"name":"prot"},"transform":[{"filter":"datum.gene=='SMC1A'"}],"mark":{"type":"rule","color":"#77797b","strokeWidth":10,"yOffset":12.7},"encoding":{"x":{"field":"len","type":"quantitative","axis":null},"x2":{"datum":0},"y":{"datum":0,"type":"quantitative"}}},
{"data":{"name":"dom"},"transform":[{"filter":"datum.gene=='SMC1A'"}],"mark":{"type":"rule","strokeWidth":18,"yOffset":12.7},"encoding":{"x":{"field":"s","type":"quantitative","axis":null},"x2":{"field":"e"},"y":{"datum":0,"type":"quantitative"},"stroke":{"field":"kind","type":"nominal","scale":{"domain":["A","B"],"range":["#58b947","#ef6461"]},"legend":null}}},
{"data":{"name":"dom"},"transform":[{"filter":"datum.gene=='SMC1A'"},{"calculate":"(datum.s+datum.e)/2","as":"mid"}],"mark":{"type":"text","color":"#ffffff","fontSize":17,"baseline":"alphabetic","dy":18.7},"encoding":{"x":{"field":"mid","type":"quantitative","axis":null},"y":{"datum":0,"type":"quantitative"},"text":{"field":"name","type":"nominal"}}},
{"mark":{"type":"point","filled":true,"opacity":1,"size":60,"strokeWidth":0},"encoding":{"x":{"field":"p","type":"quantitative","scale":{"domain":[0,1233],"nice":false,"zero":false},"axis":null},"y":{"field":"n","type":"quantitative"},"color":{"field":"t","type":"nominal","scale":{"domain":["M","T","I","O"],"range":["#178a45","#ee3224","#72308d","#231f20"]},"legend":null}}},
{"data":{"name":"prot"},"transform":[{"filter":"datum.gene=='SMC1A'"}],"mark":{"type":"text","align":"left","baseline":"alphabetic","fontSize":17,"color":"#231f20","dy":-7.4},"encoding":{"x":{"datum":0,"type":"quantitative","axis":null},"y":{"datum":3,"type":"quantitative"},"text":{"field":"name","type":"nominal"}}},
{"data":{"name":"prot"},"transform":[{"filter":"datum.gene=='SMC1A'"},{"calculate":"datum.len+' aa'","as":"lab"}],"mark":{"type":"text","align":"right","baseline":"alphabetic","fontSize":17,"color":"#231f20","dx":17,"dy":33},"encoding":{"x":{"field":"len","type":"quantitative","axis":null},"y":{"datum":0,"type":"quantitative"},"text":{"field":"lab","type":"nominal"}}},
{"data":{"name":"prot"},"transform":[{"filter":"datum.gene=='SMC1A'"}],"mark":{"type":"rule","color":"#231f20","strokeWidth":1,"xOffset":-4},"encoding":{"x":{"datum":0,"type":"quantitative","axis":null},"y":{"datum":0,"type":"quantitative"},"y2":{"datum":3}}}
]},
{"width":466,"height":90,"data":{"name":"KIF2A"},"layer":[
{"mark":{"type":"rule","color":"#231f20","strokeWidth":1.2,"y2Offset":8},"encoding":{"x":{"field":"p","type":"quantitative","scale":{"domain":[0,706],"nice":false,"zero":false},"axis":null},"y":{"field":"n","type":"quantitative","scale":{"domain":[-3.058,3.946],"nice":false,"zero":false},"axis":{"values":[0,1,2],"tickCount":50,"format":"d","labelExpr":"datum.value==0||datum.value==2?datum.label:''","title":null}},"y2":{"datum":0}}},
{"data":{"name":"prot"},"transform":[{"filter":"datum.gene=='KIF2A'"}],"mark":{"type":"rule","color":"#77797b","strokeWidth":10,"yOffset":12.7},"encoding":{"x":{"field":"len","type":"quantitative","axis":null},"x2":{"datum":0},"y":{"datum":0,"type":"quantitative"}}},
{"data":{"name":"dom"},"transform":[{"filter":"datum.gene=='KIF2A'"}],"mark":{"type":"rule","strokeWidth":18,"yOffset":12.7},"encoding":{"x":{"field":"s","type":"quantitative","axis":null},"x2":{"field":"e"},"y":{"datum":0,"type":"quantitative"},"stroke":{"field":"kind","type":"nominal","scale":{"domain":["A","B"],"range":["#58b947","#ef6461"]},"legend":null}}},
{"data":{"name":"dom"},"transform":[{"filter":"datum.gene=='KIF2A'"},{"calculate":"(datum.s+datum.e)/2","as":"mid"}],"mark":{"type":"text","color":"#ffffff","fontSize":17,"baseline":"alphabetic","dy":18.7},"encoding":{"x":{"field":"mid","type":"quantitative","axis":null},"y":{"datum":0,"type":"quantitative"},"text":{"field":"name","type":"nominal"}}},
{"mark":{"type":"point","filled":true,"opacity":1,"size":60,"strokeWidth":0},"encoding":{"x":{"field":"p","type":"quantitative","scale":{"domain":[0,706],"nice":false,"zero":false},"axis":null},"y":{"field":"n","type":"quantitative"},"color":{"field":"t","type":"nominal","scale":{"domain":["M","T","I","O"],"range":["#178a45","#ee3224","#72308d","#231f20"]},"legend":null}}},
{"data":{"name":"prot"},"transform":[{"filter":"datum.gene=='KIF2A'"}],"mark":{"type":"text","align":"left","baseline":"alphabetic","fontSize":17,"color":"#231f20","dy":-2},"encoding":{"x":{"datum":0,"type":"quantitative","axis":null},"y":{"datum":2,"type":"quantitative"},"text":{"field":"name","type":"nominal"}}},
{"data":{"name":"prot"},"transform":[{"filter":"datum.gene=='KIF2A'"},{"calculate":"datum.len+' aa'","as":"lab"}],"mark":{"type":"text","align":"right","baseline":"alphabetic","fontSize":17,"color":"#231f20","dx":8,"dy":32.3},"encoding":{"x":{"field":"len","type":"quantitative","axis":null},"y":{"datum":0,"type":"quantitative"},"text":{"field":"lab","type":"nominal"}}},
{"data":{"name":"prot"},"transform":[{"filter":"datum.gene=='KIF2A'"}],"mark":{"type":"rule","color":"#231f20","strokeWidth":1,"xOffset":-4},"encoding":{"x":{"datum":0,"type":"quantitative","axis":null},"y":{"datum":0,"type":"quantitative"},"y2":{"datum":2}}}
]},
{"width":466,"height":90,"data":{"name":"SMC3"},"layer":[
{"mark":{"type":"rule","color":"#231f20","strokeWidth":1.2,"y2Offset":8},"encoding":{"x":{"field":"p","type":"quantitative","scale":{"domain":[0,1217],"nice":false,"zero":false},"axis":null},"y":{"field":"n","type":"quantitative","scale":{"domain":[-3.083,4.032],"nice":false,"zero":false},"axis":{"values":[0,1,2],"tickCount":50,"format":"d","labelExpr":"datum.value==0||datum.value==2?datum.label:''","title":null}},"y2":{"datum":0}}},
{"data":{"name":"prot"},"transform":[{"filter":"datum.gene=='SMC3'"}],"mark":{"type":"rule","color":"#77797b","strokeWidth":10,"yOffset":12.7},"encoding":{"x":{"field":"len","type":"quantitative","axis":null},"x2":{"datum":0},"y":{"datum":0,"type":"quantitative"}}},
{"data":{"name":"dom"},"transform":[{"filter":"datum.gene=='SMC3'"}],"mark":{"type":"rule","strokeWidth":18,"yOffset":12.7},"encoding":{"x":{"field":"s","type":"quantitative","axis":null},"x2":{"field":"e"},"y":{"datum":0,"type":"quantitative"},"stroke":{"field":"kind","type":"nominal","scale":{"domain":["A","B"],"range":["#58b947","#ef6461"]},"legend":null}}},
{"data":{"name":"dom"},"transform":[{"filter":"datum.gene=='SMC3'"},{"calculate":"(datum.s+datum.e)/2","as":"mid"}],"mark":{"type":"text","color":"#ffffff","fontSize":17,"baseline":"alphabetic","dy":18.7},"encoding":{"x":{"field":"mid","type":"quantitative","axis":null},"y":{"datum":0,"type":"quantitative"},"text":{"field":"name","type":"nominal"}}},
{"mark":{"type":"point","filled":true,"opacity":1,"size":60,"strokeWidth":0},"encoding":{"x":{"field":"p","type":"quantitative","scale":{"domain":[0,1217],"nice":false,"zero":false},"axis":null},"y":{"field":"n","type":"quantitative"},"color":{"field":"t","type":"nominal","scale":{"domain":["M","T","I","O"],"range":["#178a45","#ee3224","#72308d","#231f20"]},"legend":null}}},
{"data":{"name":"prot"},"transform":[{"filter":"datum.gene=='SMC3'"}],"mark":{"type":"text","align":"left","baseline":"alphabetic","fontSize":17,"color":"#231f20","dy":-11},"encoding":{"x":{"datum":0,"type":"quantitative","axis":null},"y":{"datum":2,"type":"quantitative"},"text":{"field":"name","type":"nominal"}}},
{"data":{"name":"prot"},"transform":[{"filter":"datum.gene=='SMC3'"},{"calculate":"datum.len+' aa'","as":"lab"}],"mark":{"type":"text","align":"right","baseline":"alphabetic","fontSize":17,"color":"#231f20","dx":17,"dy":32},"encoding":{"x":{"field":"len","type":"quantitative","axis":null},"y":{"datum":0,"type":"quantitative"},"text":{"field":"lab","type":"nominal"}}},
{"data":{"name":"prot"},"transform":[{"filter":"datum.gene=='SMC3'"}],"mark":{"type":"rule","color":"#231f20","strokeWidth":1,"xOffset":-4},"encoding":{"x":{"datum":0,"type":"quantitative","axis":null},"y":{"datum":0,"type":"quantitative"},"y2":{"datum":2}}}
]},
{"width":466,"height":104,"data":{"name":"KIF2C"},"layer":[
{"mark":{"type":"rule","color":"#231f20","strokeWidth":1.2,"y2Offset":8},"encoding":{"x":{"field":"p","type":"quantitative","scale":{"domain":[0,725],"nice":false,"zero":false},"axis":null},"y":{"field":"n","type":"quantitative","scale":{"domain":[-3.004,5.153],"nice":false,"zero":false},"axis":{"values":[0,1,2,3,4],"tickCount":50,"format":"d","labelExpr":"datum.value==0||datum.value==4?datum.label:''","title":null}},"y2":{"datum":0}}},
{"data":{"name":"prot"},"transform":[{"filter":"datum.gene=='KIF2C'"}],"mark":{"type":"rule","color":"#77797b","strokeWidth":10,"yOffset":12.7},"encoding":{"x":{"field":"len","type":"quantitative","axis":null},"x2":{"datum":0},"y":{"datum":0,"type":"quantitative"}}},
{"data":{"name":"dom"},"transform":[{"filter":"datum.gene=='KIF2C'"}],"mark":{"type":"rule","strokeWidth":18,"yOffset":12.7},"encoding":{"x":{"field":"s","type":"quantitative","axis":null},"x2":{"field":"e"},"y":{"datum":0,"type":"quantitative"},"stroke":{"field":"kind","type":"nominal","scale":{"domain":["A","B"],"range":["#58b947","#ef6461"]},"legend":null}}},
{"data":{"name":"dom"},"transform":[{"filter":"datum.gene=='KIF2C'"},{"calculate":"(datum.s+datum.e)/2","as":"mid"}],"mark":{"type":"text","color":"#ffffff","fontSize":17,"baseline":"alphabetic","dy":18.7},"encoding":{"x":{"field":"mid","type":"quantitative","axis":null},"y":{"datum":0,"type":"quantitative"},"text":{"field":"name","type":"nominal"}}},
{"mark":{"type":"point","filled":true,"opacity":1,"size":60,"strokeWidth":0},"encoding":{"x":{"field":"p","type":"quantitative","scale":{"domain":[0,725],"nice":false,"zero":false},"axis":null},"y":{"field":"n","type":"quantitative"},"color":{"field":"t","type":"nominal","scale":{"domain":["M","T","I","O"],"range":["#178a45","#ee3224","#72308d","#231f20"]},"legend":null}}},
{"data":{"name":"prot"},"transform":[{"filter":"datum.gene=='KIF2C'"}],"mark":{"type":"text","align":"left","baseline":"alphabetic","fontSize":17,"color":"#231f20","dy":-1.4},"encoding":{"x":{"datum":0,"type":"quantitative","axis":null},"y":{"datum":4,"type":"quantitative"},"text":{"field":"name","type":"nominal"}}},
{"data":{"name":"prot"},"transform":[{"filter":"datum.gene=='KIF2C'"},{"calculate":"datum.len+' aa'","as":"lab"}],"mark":{"type":"text","align":"right","baseline":"alphabetic","fontSize":17,"color":"#231f20","dx":-1,"dy":33.3},"encoding":{"x":{"field":"len","type":"quantitative","axis":null},"y":{"datum":0,"type":"quantitative"},"text":{"field":"lab","type":"nominal"}}},
{"data":{"name":"prot"},"transform":[{"filter":"datum.gene=='KIF2C'"}],"mark":{"type":"rule","color":"#231f20","strokeWidth":1,"xOffset":-4},"encoding":{"x":{"datum":0,"type":"quantitative","axis":null},"y":{"datum":0,"type":"quantitative"},"y2":{"datum":4}}}
]},
{"width":466,"height":104,"data":{"name":"RAD21"},"layer":[
{"mark":{"type":"rule","color":"#231f20","strokeWidth":1.2,"y2Offset":8},"encoding":{"x":{"field":"p","type":"quantitative","scale":{"domain":[0,631],"nice":false,"zero":false},"axis":null},"y":{"field":"n","type":"quantitative","scale":{"domain":[-3.296,4.925],"nice":false,"zero":false},"axis":{"values":[0,1,2],"tickCount":50,"format":"d","labelExpr":"datum.value==0||datum.value==2?datum.label:''","title":null}},"y2":{"datum":0}}},
{"data":{"name":"prot"},"transform":[{"filter":"datum.gene=='RAD21'"}],"mark":{"type":"rule","color":"#77797b","strokeWidth":10,"yOffset":12.7},"encoding":{"x":{"field":"len","type":"quantitative","axis":null},"x2":{"datum":0},"y":{"datum":0,"type":"quantitative"}}},
{"data":{"name":"dom"},"transform":[{"filter":"datum.gene=='RAD21'"}],"mark":{"type":"rule","strokeWidth":18,"yOffset":12.7},"encoding":{"x":{"field":"s","type":"quantitative","axis":null},"x2":{"field":"e"},"y":{"datum":0,"type":"quantitative"},"stroke":{"field":"kind","type":"nominal","scale":{"domain":["A","B"],"range":["#58b947","#ef6461"]},"legend":null}}},
{"data":{"name":"dom"},"transform":[{"filter":"datum.gene=='RAD21'"},{"calculate":"(datum.s+datum.e)/2","as":"mid"}],"mark":{"type":"text","color":"#ffffff","fontSize":17,"baseline":"alphabetic","dy":18.7},"encoding":{"x":{"field":"mid","type":"quantitative","axis":null},"y":{"datum":0,"type":"quantitative"},"text":{"field":"name","type":"nominal"}}},
{"mark":{"type":"point","filled":true,"opacity":1,"size":60,"strokeWidth":0},"encoding":{"x":{"field":"p","type":"quantitative","scale":{"domain":[0,631],"nice":false,"zero":false},"axis":null},"y":{"field":"n","type":"quantitative"},"color":{"field":"t","type":"nominal","scale":{"domain":["M","T","I","O"],"range":["#178a45","#ee3224","#72308d","#231f20"]},"legend":null}}},
{"data":{"name":"prot"},"transform":[{"filter":"datum.gene=='RAD21'"}],"mark":{"type":"text","align":"left","baseline":"alphabetic","fontSize":17,"color":"#231f20","dy":-11.7},"encoding":{"x":{"datum":0,"type":"quantitative","axis":null},"y":{"datum":2,"type":"quantitative"},"text":{"field":"name","type":"nominal"}}},
{"data":{"name":"prot"},"transform":[{"filter":"datum.gene=='RAD21'"},{"calculate":"datum.len+' aa'","as":"lab"}],"mark":{"type":"text","align":"right","baseline":"alphabetic","fontSize":17,"color":"#231f20","dx":7,"dy":35.7},"encoding":{"x":{"field":"len","type":"quantitative","axis":null},"y":{"datum":0,"type":"quantitative"},"text":{"field":"lab","type":"nominal"}}},
{"data":{"name":"prot"},"transform":[{"filter":"datum.gene=='RAD21'"}],"mark":{"type":"rule","color":"#231f20","strokeWidth":1,"xOffset":-4},"encoding":{"x":{"datum":0,"type":"quantitative","axis":null},"y":{"datum":0,"type":"quantitative"},"y2":{"datum":2}}}
]},
{"width":466,"height":119,"data":{"name":"KIF2B"},"layer":[
{"mark":{"type":"rule","color":"#231f20","strokeWidth":1.2,"y2Offset":8},"encoding":{"x":{"field":"p","type":"quantitative","scale":{"domain":[0,673],"nice":false,"zero":false},"axis":null},"y":{"field":"n","type":"quantitative","scale":{"domain":[-3.908,7.245],"nice":false,"zero":false},"axis":{"values":[0,1,2,3,4,5,6],"tickCount":50,"format":"d","labelExpr":"datum.value==0||datum.value==6?datum.label:''","title":null}},"y2":{"datum":0}}},
{"data":{"name":"prot"},"transform":[{"filter":"datum.gene=='KIF2B'"}],"mark":{"type":"rule","color":"#77797b","strokeWidth":10,"yOffset":12.5},"encoding":{"x":{"field":"len","type":"quantitative","axis":null},"x2":{"datum":0},"y":{"datum":0,"type":"quantitative"}}},
{"data":{"name":"dom"},"transform":[{"filter":"datum.gene=='KIF2B'"}],"mark":{"type":"rule","strokeWidth":18,"yOffset":12.5},"encoding":{"x":{"field":"s","type":"quantitative","axis":null},"x2":{"field":"e"},"y":{"datum":0,"type":"quantitative"},"stroke":{"field":"kind","type":"nominal","scale":{"domain":["A","B"],"range":["#58b947","#ef6461"]},"legend":null}}},
{"data":{"name":"dom"},"transform":[{"filter":"datum.gene=='KIF2B'"},{"calculate":"(datum.s+datum.e)/2","as":"mid"}],"mark":{"type":"text","color":"#ffffff","fontSize":17,"baseline":"alphabetic","dy":18.5},"encoding":{"x":{"field":"mid","type":"quantitative","axis":null},"y":{"datum":0,"type":"quantitative"},"text":{"field":"name","type":"nominal"}}},
{"mark":{"type":"point","filled":true,"opacity":1,"size":60,"strokeWidth":0},"encoding":{"x":{"field":"p","type":"quantitative","scale":{"domain":[0,673],"nice":false,"zero":false},"axis":null},"y":{"field":"n","type":"quantitative"},"color":{"field":"t","type":"nominal","scale":{"domain":["M","T","I","O"],"range":["#178a45","#ee3224","#72308d","#231f20"]},"legend":null}}},
{"data":{"name":"prot"},"transform":[{"filter":"datum.gene=='KIF2B'"}],"mark":{"type":"text","align":"left","baseline":"alphabetic","fontSize":17,"color":"#231f20","dy":0},"encoding":{"x":{"datum":0,"type":"quantitative","axis":null},"y":{"datum":6,"type":"quantitative"},"text":{"field":"name","type":"nominal"}}},
{"data":{"name":"prot"},"transform":[{"filter":"datum.gene=='KIF2B'"},{"calculate":"datum.len+' aa'","as":"lab"}],"mark":{"type":"text","align":"right","baseline":"alphabetic","fontSize":17,"color":"#231f20","dx":8,"dy":31.7},"encoding":{"x":{"field":"len","type":"quantitative","axis":null},"y":{"datum":0,"type":"quantitative"},"text":{"field":"lab","type":"nominal"}}},
{"data":{"name":"prot"},"transform":[{"filter":"datum.gene=='KIF2B'"}],"mark":{"type":"rule","color":"#231f20","strokeWidth":1,"xOffset":-4},"encoding":{"x":{"datum":0,"type":"quantitative","axis":null},"y":{"datum":0,"type":"quantitative"},"y2":{"datum":6}}}
]},
{"width":466,"height":119,"data":{"name":"STAG1"},"layer":[
{"mark":{"type":"rule","color":"#231f20","strokeWidth":1.2,"y2Offset":8},"encoding":{"x":{"field":"p","type":"quantitative","scale":{"domain":[0,1258],"nice":false,"zero":false},"axis":null},"y":{"field":"n","type":"quantitative","scale":{"domain":[-3.271,6.063],"nice":false,"zero":false},"axis":{"values":[0,1,2,3,4],"tickCount":50,"format":"d","labelExpr":"datum.value==0||datum.value==4?datum.label:''","title":null}},"y2":{"datum":0}}},
{"data":{"name":"prot"},"transform":[{"filter":"datum.gene=='STAG1'"}],"mark":{"type":"rule","color":"#77797b","strokeWidth":10,"yOffset":12.7},"encoding":{"x":{"field":"len","type":"quantitative","axis":null},"x2":{"datum":0},"y":{"datum":0,"type":"quantitative"}}},
{"data":{"name":"dom"},"transform":[{"filter":"datum.gene=='STAG1'"}],"mark":{"type":"rule","strokeWidth":18,"yOffset":12.7},"encoding":{"x":{"field":"s","type":"quantitative","axis":null},"x2":{"field":"e"},"y":{"datum":0,"type":"quantitative"},"stroke":{"field":"kind","type":"nominal","scale":{"domain":["A","B"],"range":["#58b947","#ef6461"]},"legend":null}}},
{"data":{"name":"dom"},"transform":[{"filter":"datum.gene=='STAG1'"},{"calculate":"(datum.s+datum.e)/2","as":"mid"}],"mark":{"type":"text","color":"#ffffff","fontSize":17,"baseline":"alphabetic","dy":18.7},"encoding":{"x":{"field":"mid","type":"quantitative","axis":null},"y":{"datum":0,"type":"quantitative"},"text":{"field":"name","type":"nominal"}}},
{"mark":{"type":"point","filled":true,"opacity":1,"size":60,"strokeWidth":0},"encoding":{"x":{"field":"p","type":"quantitative","scale":{"domain":[0,1258],"nice":false,"zero":false},"axis":null},"y":{"field":"n","type":"quantitative"},"color":{"field":"t","type":"nominal","scale":{"domain":["M","T","I","O"],"range":["#178a45","#ee3224","#72308d","#231f20"]},"legend":null}}},
{"data":{"name":"prot"},"transform":[{"filter":"datum.gene=='STAG1'"}],"mark":{"type":"text","align":"left","baseline":"alphabetic","fontSize":17,"color":"#231f20","dy":-9},"encoding":{"x":{"datum":0,"type":"quantitative","axis":null},"y":{"datum":4,"type":"quantitative"},"text":{"field":"name","type":"nominal"}}},
{"data":{"name":"prot"},"transform":[{"filter":"datum.gene=='STAG1'"},{"calculate":"datum.len+' aa'","as":"lab"}],"mark":{"type":"text","align":"right","baseline":"alphabetic","fontSize":17,"color":"#231f20","dx":17,"dy":31.7},"encoding":{"x":{"field":"len","type":"quantitative","axis":null},"y":{"datum":0,"type":"quantitative"},"text":{"field":"lab","type":"nominal"}}},
{"data":{"name":"prot"},"transform":[{"filter":"datum.gene=='STAG1'"}],"mark":{"type":"rule","color":"#231f20","strokeWidth":1,"xOffset":-4},"encoding":{"x":{"datum":0,"type":"quantitative","axis":null},"y":{"datum":0,"type":"quantitative"},"y2":{"datum":4}}}
]},
{"width":466,"height":92,"data":{"name":"SGOL1"},"layer":[
{"mark":{"type":"rule","color":"#231f20","strokeWidth":1.2,"y2Offset":8},"encoding":{"x":{"field":"p","type":"quantitative","scale":{"domain":[0,561],"nice":false,"zero":false},"axis":null},"y":{"field":"n","type":"quantitative","scale":{"domain":[-2.802,4.358],"nice":false,"zero":false},"axis":{"values":[0,1,2],"tickCount":50,"format":"d","labelExpr":"datum.value==0||datum.value==2?datum.label:''","title":null}},"y2":{"datum":0}}},
{"data":{"name":"prot"},"transform":[{"filter":"datum.gene=='SGOL1'"}],"mark":{"type":"rule","color":"#77797b","strokeWidth":10,"yOffset":12.2},"encoding":{"x":{"field":"len","type":"quantitative","axis":null},"x2":{"datum":0},"y":{"datum":0,"type":"quantitative"}}},
{"data":{"name":"dom"},"transform":[{"filter":"datum.gene=='SGOL1'"}],"mark":{"type":"rule","strokeWidth":18,"yOffset":12.2},"encoding":{"x":{"field":"s","type":"quantitative","axis":null},"x2":{"field":"e"},"y":{"datum":0,"type":"quantitative"},"stroke":{"field":"kind","type":"nominal","scale":{"domain":["A","B"],"range":["#58b947","#ef6461"]},"legend":null}}},
{"data":{"name":"dom"},"transform":[{"filter":"datum.gene=='SGOL1'"},{"calculate":"(datum.s+datum.e)/2","as":"mid"}],"mark":{"type":"text","color":"#ffffff","fontSize":17,"baseline":"alphabetic","dy":18.2},"encoding":{"x":{"field":"mid","type":"quantitative","axis":null},"y":{"datum":0,"type":"quantitative"},"text":{"field":"name","type":"nominal"}}},
{"mark":{"type":"point","filled":true,"opacity":1,"size":70,"strokeWidth":0},"encoding":{"x":{"field":"p","type":"quantitative","scale":{"domain":[0,561],"nice":false,"zero":false},"axis":null},"y":{"field":"n","type":"quantitative"},"color":{"field":"t","type":"nominal","scale":{"domain":["M","T","I","O"],"range":["#178a45","#ee3224","#72308d","#231f20"]},"legend":null}}},
{"data":{"name":"prot"},"transform":[{"filter":"datum.gene=='SGOL1'"}],"mark":{"type":"text","align":"left","baseline":"alphabetic","fontSize":17,"color":"#231f20","dy":-4.6},"encoding":{"x":{"datum":0,"type":"quantitative","axis":null},"y":{"datum":2,"type":"quantitative"},"text":{"field":"name","type":"nominal"}}},
{"data":{"name":"prot"},"transform":[{"filter":"datum.gene=='SGOL1'"},{"calculate":"datum.len+' aa'","as":"lab"}],"mark":{"type":"text","align":"right","baseline":"alphabetic","fontSize":17,"color":"#231f20","dx":9,"dy":32.3},"encoding":{"x":{"field":"len","type":"quantitative","axis":null},"y":{"datum":0,"type":"quantitative"},"text":{"field":"lab","type":"nominal"}}},
{"data":{"name":"prot"},"transform":[{"filter":"datum.gene=='SGOL1'"}],"mark":{"type":"rule","color":"#231f20","strokeWidth":1,"xOffset":-4},"encoding":{"x":{"datum":0,"type":"quantitative","axis":null},"y":{"datum":0,"type":"quantitative"},"y2":{"datum":2}}}
]},
{"width":466,"height":92,"data":{"name":"STAG2"},"layer":[
{"mark":{"type":"rule","color":"#231f20","strokeWidth":1.2,"y2Offset":8},"encoding":{"x":{"field":"p","type":"quantitative","scale":{"domain":[0,1231],"nice":false,"zero":false},"axis":null},"y":{"field":"n","type":"quantitative","scale":{"domain":[-2.929,4.219],"nice":false,"zero":false},"axis":{"values":[0,1,2,3],"tickCount":50,"format":"d","labelExpr":"datum.value==0||datum.value==3?datum.label:''","title":null}},"y2":{"datum":0}}},
{"data":{"name":"prot"},"transform":[{"filter":"datum.gene=='STAG2'"}],"mark":{"type":"rule","color":"#77797b","strokeWidth":10,"yOffset":12.7},"encoding":{"x":{"field":"len","type":"quantitative","axis":null},"x2":{"datum":0},"y":{"datum":0,"type":"quantitative"}}},
{"data":{"name":"dom"},"transform":[{"filter":"datum.gene=='STAG2'"}],"mark":{"type":"rule","strokeWidth":18,"yOffset":12.7},"encoding":{"x":{"field":"s","type":"quantitative","axis":null},"x2":{"field":"e"},"y":{"datum":0,"type":"quantitative"},"stroke":{"field":"kind","type":"nominal","scale":{"domain":["A","B"],"range":["#58b947","#ef6461"]},"legend":null}}},
{"data":{"name":"dom"},"transform":[{"filter":"datum.gene=='STAG2'"},{"calculate":"(datum.s+datum.e)/2","as":"mid"}],"mark":{"type":"text","color":"#ffffff","fontSize":17,"baseline":"alphabetic","dy":18.7},"encoding":{"x":{"field":"mid","type":"quantitative","axis":null},"y":{"datum":0,"type":"quantitative"},"text":{"field":"name","type":"nominal"}}},
{"mark":{"type":"point","filled":true,"opacity":1,"size":60,"strokeWidth":0},"encoding":{"x":{"field":"p","type":"quantitative","scale":{"domain":[0,1231],"nice":false,"zero":false},"axis":null},"y":{"field":"n","type":"quantitative"},"color":{"field":"t","type":"nominal","scale":{"domain":["M","T","I","O"],"range":["#178a45","#ee3224","#72308d","#231f20"]},"legend":null}}},
{"data":{"name":"prot"},"transform":[{"filter":"datum.gene=='STAG2'"}],"mark":{"type":"text","align":"left","baseline":"alphabetic","fontSize":17,"color":"#231f20","dy":-5.7},"encoding":{"x":{"datum":0,"type":"quantitative","axis":null},"y":{"datum":3,"type":"quantitative"},"text":{"field":"name","type":"nominal"}}},
{"data":{"name":"prot"},"transform":[{"filter":"datum.gene=='STAG2'"},{"calculate":"datum.len+' aa'","as":"lab"}],"mark":{"type":"text","align":"right","baseline":"alphabetic","fontSize":17,"color":"#231f20","dx":17,"dy":32.4},"encoding":{"x":{"field":"len","type":"quantitative","axis":null},"y":{"datum":0,"type":"quantitative"},"text":{"field":"lab","type":"nominal"}}},
{"data":{"name":"prot"},"transform":[{"filter":"datum.gene=='STAG2'"}],"mark":{"type":"rule","color":"#231f20","strokeWidth":1,"xOffset":-4},"encoding":{"x":{"datum":0,"type":"quantitative","axis":null},"y":{"datum":0,"type":"quantitative"},"y2":{"datum":3}}}
]},
{"width":466,"height":103,"data":{"name":"SGOL2"},"layer":[
{"mark":{"type":"rule","color":"#231f20","strokeWidth":1.2,"y2Offset":8},"encoding":{"x":{"field":"p","type":"quantitative","scale":{"domain":[0,1265],"nice":false,"zero":false},"axis":null},"y":{"field":"n","type":"quantitative","scale":{"domain":[-3.592,4.331],"nice":false,"zero":false},"axis":{"values":[0,1,2,3],"tickCount":50,"format":"d","labelExpr":"datum.value==0||datum.value==3?datum.label:''","title":null}},"y2":{"datum":0}}},
{"data":{"name":"prot"},"transform":[{"filter":"datum.gene=='SGOL2'"}],"mark":{"type":"rule","color":"#77797b","strokeWidth":10,"yOffset":12.7},"encoding":{"x":{"field":"len","type":"quantitative","axis":null},"x2":{"datum":0},"y":{"datum":0,"type":"quantitative"}}},
{"mark":{"type":"point","filled":true,"opacity":1,"size":60,"strokeWidth":0},"encoding":{"x":{"field":"p","type":"quantitative","scale":{"domain":[0,1265],"nice":false,"zero":false},"axis":null},"y":{"field":"n","type":"quantitative"},"color":{"field":"t","type":"nominal","scale":{"domain":["M","T","I","O"],"range":["#178a45","#ee3224","#72308d","#231f20"]},"legend":null}}},
{"data":{"name":"prot"},"transform":[{"filter":"datum.gene=='SGOL2'"}],"mark":{"type":"text","align":"left","baseline":"alphabetic","fontSize":17,"color":"#231f20","dy":-3.6},"encoding":{"x":{"datum":0,"type":"quantitative","axis":null},"y":{"datum":3,"type":"quantitative"},"text":{"field":"name","type":"nominal"}}},
{"data":{"name":"prot"},"transform":[{"filter":"datum.gene=='SGOL2'"},{"calculate":"datum.len+' aa'","as":"lab"}],"mark":{"type":"text","align":"right","baseline":"alphabetic","fontSize":17,"color":"#231f20","dx":14,"dy":31.7},"encoding":{"x":{"field":"len","type":"quantitative","axis":null},"y":{"datum":0,"type":"quantitative"},"text":{"field":"lab","type":"nominal"}}},
{"data":{"name":"prot"},"transform":[{"filter":"datum.gene=='SGOL2'"}],"mark":{"type":"rule","color":"#231f20","strokeWidth":1,"xOffset":-4},"encoding":{"x":{"datum":0,"type":"quantitative","axis":null},"y":{"datum":0,"type":"quantitative"},"y2":{"datum":3}}}
]},
{"width":466,"height":103,"data":{"name":"blank"},"mark":{"type":"point","opacity":0,"size":0}},
{"width":466,"height":137,"data":{"name":"MAD1L1"},"title":{"text":"Spindle assembly checkpoint","anchor":"start","frame":"bounds","fontSize":19,"fontWeight":"bold","color":"#231f20","offset":-43,"baseline":"alphabetic","font":"Liberation Sans"},"layer":[
{"mark":{"type":"rule","color":"#231f20","strokeWidth":1.2,"y2Offset":8},"encoding":{"x":{"field":"p","type":"quantitative","scale":{"domain":[0,718],"nice":false,"zero":false},"axis":null},"y":{"field":"n","type":"quantitative","scale":{"domain":[-3.826,7.496],"nice":false,"zero":false},"axis":{"values":[0,1,2,3],"tickCount":50,"format":"d","labelExpr":"datum.value==0||datum.value==3?datum.label:''","title":null}},"y2":{"datum":0}}},
{"data":{"name":"prot"},"transform":[{"filter":"datum.gene=='MAD1L1'"}],"mark":{"type":"rule","color":"#77797b","strokeWidth":10,"yOffset":12.7},"encoding":{"x":{"field":"len","type":"quantitative","axis":null},"x2":{"datum":0},"y":{"datum":0,"type":"quantitative"}}},
{"data":{"name":"dom"},"transform":[{"filter":"datum.gene=='MAD1L1'"}],"mark":{"type":"rule","strokeWidth":18,"yOffset":12.7},"encoding":{"x":{"field":"s","type":"quantitative","axis":null},"x2":{"field":"e"},"y":{"datum":0,"type":"quantitative"},"stroke":{"field":"kind","type":"nominal","scale":{"domain":["A","B"],"range":["#58b947","#ef6461"]},"legend":null}}},
{"data":{"name":"dom"},"transform":[{"filter":"datum.gene=='MAD1L1'"},{"calculate":"(datum.s+datum.e)/2","as":"mid"}],"mark":{"type":"text","color":"#ffffff","fontSize":17,"baseline":"alphabetic","dy":18.7},"encoding":{"x":{"field":"mid","type":"quantitative","axis":null},"y":{"datum":0,"type":"quantitative"},"text":{"field":"name","type":"nominal"}}},
{"mark":{"type":"point","filled":true,"opacity":1,"size":60,"strokeWidth":0},"encoding":{"x":{"field":"p","type":"quantitative","scale":{"domain":[0,718],"nice":false,"zero":false},"axis":null},"y":{"field":"n","type":"quantitative"},"color":{"field":"t","type":"nominal","scale":{"domain":["M","T","I","O"],"range":["#178a45","#ee3224","#72308d","#231f20"]},"legend":null}}},
{"data":{"name":"prot"},"transform":[{"filter":"datum.gene=='MAD1L1'"}],"mark":{"type":"text","align":"left","baseline":"alphabetic","fontSize":17,"color":"#231f20","dy":-1},"encoding":{"x":{"datum":0,"type":"quantitative","axis":null},"y":{"datum":3,"type":"quantitative"},"text":{"field":"name","type":"nominal"}}},
{"data":{"name":"prot"},"transform":[{"filter":"datum.gene=='MAD1L1'"},{"calculate":"datum.len+' aa'","as":"lab"}],"mark":{"type":"text","align":"right","baseline":"alphabetic","fontSize":17,"color":"#231f20","dx":7,"dy":39.3},"encoding":{"x":{"field":"len","type":"quantitative","axis":null},"y":{"datum":0,"type":"quantitative"},"text":{"field":"lab","type":"nominal"}}},
{"data":{"name":"prot"},"transform":[{"filter":"datum.gene=='MAD1L1'"}],"mark":{"type":"rule","color":"#231f20","strokeWidth":1,"xOffset":-4},"encoding":{"x":{"datum":0,"type":"quantitative","axis":null},"y":{"datum":0,"type":"quantitative"},"y2":{"datum":3}}}
]},
{"width":466,"height":137,"data":{"name":"BUB1"},"layer":[
{"mark":{"type":"rule","color":"#231f20","strokeWidth":1.2,"y2Offset":8},"encoding":{"x":{"field":"p","type":"quantitative","scale":{"domain":[0,1085],"nice":false,"zero":false},"axis":null},"y":{"field":"n","type":"quantitative","scale":{"domain":[-3.463,7.648],"nice":false,"zero":false},"axis":{"values":[0,1,2,3],"tickCount":50,"format":"d","labelExpr":"datum.value==0||datum.value==3?datum.label:''","title":null}},"y2":{"datum":0}}},
{"data":{"name":"prot"},"transform":[{"filter":"datum.gene=='BUB1'"}],"mark":{"type":"rule","color":"#77797b","strokeWidth":10,"yOffset":13.5},"encoding":{"x":{"field":"len","type":"quantitative","axis":null},"x2":{"datum":0},"y":{"datum":0,"type":"quantitative"}}},
{"data":{"name":"dom"},"transform":[{"filter":"datum.gene=='BUB1'"}],"mark":{"type":"rule","strokeWidth":18,"yOffset":13.5},"encoding":{"x":{"field":"s","type":"quantitative","axis":null},"x2":{"field":"e"},"y":{"datum":0,"type":"quantitative"},"stroke":{"field":"kind","type":"nominal","scale":{"domain":["A","B"],"range":["#58b947","#ef6461"]},"legend":null}}},
{"data":{"name":"dom"},"transform":[{"filter":"datum.gene=='BUB1'"},{"calculate":"(datum.s+datum.e)/2","as":"mid"}],"mark":{"type":"text","color":"#ffffff","fontSize":17,"baseline":"alphabetic","dy":19.5},"encoding":{"x":{"field":"mid","type":"quantitative","axis":null},"y":{"datum":0,"type":"quantitative"},"text":{"field":"name","type":"nominal"}}},
{"mark":{"type":"point","filled":true,"opacity":1,"size":60,"strokeWidth":0},"encoding":{"x":{"field":"p","type":"quantitative","scale":{"domain":[0,1085],"nice":false,"zero":false},"axis":null},"y":{"field":"n","type":"quantitative"},"color":{"field":"t","type":"nominal","scale":{"domain":["M","T","I","O"],"range":["#178a45","#ee3224","#72308d","#231f20"]},"legend":null}}},
{"data":{"name":"prot"},"transform":[{"filter":"datum.gene=='BUB1'"}],"mark":{"type":"text","align":"left","baseline":"alphabetic","fontSize":17,"color":"#231f20","dy":-1.3},"encoding":{"x":{"datum":0,"type":"quantitative","axis":null},"y":{"datum":3,"type":"quantitative"},"text":{"field":"name","type":"nominal"}}},
{"data":{"name":"prot"},"transform":[{"filter":"datum.gene=='BUB1'"},{"calculate":"datum.len+' aa'","as":"lab"}],"mark":{"type":"text","align":"right","baseline":"alphabetic","fontSize":17,"color":"#231f20","dx":14,"dy":36.4},"encoding":{"x":{"field":"len","type":"quantitative","axis":null},"y":{"datum":0,"type":"quantitative"},"text":{"field":"lab","type":"nominal"}}},
{"data":{"name":"prot"},"transform":[{"filter":"datum.gene=='BUB1'"}],"mark":{"type":"rule","color":"#231f20","strokeWidth":1,"xOffset":-4},"encoding":{"x":{"datum":0,"type":"quantitative","axis":null},"y":{"datum":0,"type":"quantitative"},"y2":{"datum":3}}}
]},
{"width":466,"height":85,"data":{"name":"MAD2L1"},"layer":[
{"mark":{"type":"rule","color":"#231f20","strokeWidth":1.2,"y2Offset":8},"encoding":{"x":{"field":"p","type":"quantitative","scale":{"domain":[0,205],"nice":false,"zero":false},"axis":null},"y":{"field":"n","type":"quantitative","scale":{"domain":[-3.1,3.438],"nice":false,"zero":false},"axis":{"values":[0,1,2],"tickCount":50,"format":"d","labelExpr":"datum.value==0||datum.value==2?datum.label:''","title":null}},"y2":{"datum":0}}},
{"data":{"name":"prot"},"transform":[{"filter":"datum.gene=='MAD2L1'"}],"mark":{"type":"rule","color":"#77797b","strokeWidth":10,"yOffset":12.7},"encoding":{"x":{"field":"len","type":"quantitative","axis":null},"x2":{"datum":0},"y":{"datum":0,"type":"quantitative"}}},
{"data":{"name":"dom"},"transform":[{"filter":"datum.gene=='MAD2L1'"}],"mark":{"type":"rule","strokeWidth":18,"yOffset":12.7},"encoding":{"x":{"field":"s","type":"quantitative","axis":null},"x2":{"field":"e"},"y":{"datum":0,"type":"quantitative"},"stroke":{"field":"kind","type":"nominal","scale":{"domain":["A","B"],"range":["#58b947","#ef6461"]},"legend":null}}},
{"data":{"name":"dom"},"transform":[{"filter":"datum.gene=='MAD2L1'"},{"calculate":"(datum.s+datum.e)/2","as":"mid"}],"mark":{"type":"text","color":"#ffffff","fontSize":17,"baseline":"alphabetic","dy":18.7},"encoding":{"x":{"field":"mid","type":"quantitative","axis":null},"y":{"datum":0,"type":"quantitative"},"text":{"field":"name","type":"nominal"}}},
{"mark":{"type":"point","filled":true,"opacity":1,"size":60,"strokeWidth":0},"encoding":{"x":{"field":"p","type":"quantitative","scale":{"domain":[0,205],"nice":false,"zero":false},"axis":null},"y":{"field":"n","type":"quantitative"},"color":{"field":"t","type":"nominal","scale":{"domain":["M","T","I","O"],"range":["#178a45","#ee3224","#72308d","#231f20"]},"legend":null}}},
{"data":{"name":"prot"},"transform":[{"filter":"datum.gene=='MAD2L1'"}],"mark":{"type":"text","align":"left","baseline":"alphabetic","fontSize":17,"color":"#231f20","dy":-3},"encoding":{"x":{"datum":0,"type":"quantitative","axis":null},"y":{"datum":2,"type":"quantitative"},"text":{"field":"name","type":"nominal"}}},
{"data":{"name":"prot"},"transform":[{"filter":"datum.gene=='MAD2L1'"},{"calculate":"datum.len+' aa'","as":"lab"}],"mark":{"type":"text","align":"right","baseline":"alphabetic","fontSize":17,"color":"#231f20","dx":7,"dy":34.3},"encoding":{"x":{"field":"len","type":"quantitative","axis":null},"y":{"datum":0,"type":"quantitative"},"text":{"field":"lab","type":"nominal"}}},
{"data":{"name":"prot"},"transform":[{"filter":"datum.gene=='MAD2L1'"}],"mark":{"type":"rule","color":"#231f20","strokeWidth":1,"xOffset":-4},"encoding":{"x":{"datum":0,"type":"quantitative","axis":null},"y":{"datum":0,"type":"quantitative"},"y2":{"datum":2}}}
]},
{"width":466,"height":85,"data":{"name":"BUB1B"},"layer":[
{"mark":{"type":"rule","color":"#231f20","strokeWidth":1.2,"y2Offset":8},"encoding":{"x":{"field":"p","type":"quantitative","scale":{"domain":[0,1050],"nice":false,"zero":false},"axis":null},"y":{"field":"n","type":"quantitative","scale":{"domain":[-3.303,3.664],"nice":false,"zero":false},"axis":{"values":[0,1,2],"tickCount":50,"format":"d","labelExpr":"datum.value==0||datum.value==2?datum.label:''","title":null}},"y2":{"datum":0}}},
{"data":{"name":"prot"},"transform":[{"filter":"datum.gene=='BUB1B'"}],"mark":{"type":"rule","color":"#77797b","strokeWidth":10,"yOffset":13.5},"encoding":{"x":{"field":"len","type":"quantitative","axis":null},"x2":{"datum":0},"y":{"datum":0,"type":"quantitative"}}},
{"data":{"name":"dom"},"transform":[{"filter":"datum.gene=='BUB1B'"}],"mark":{"type":"rule","strokeWidth":18,"yOffset":13.5},"encoding":{"x":{"field":"s","type":"quantitative","axis":null},"x2":{"field":"e"},"y":{"datum":0,"type":"quantitative"},"stroke":{"field":"kind","type":"nominal","scale":{"domain":["A","B"],"range":["#58b947","#ef6461"]},"legend":null}}},
{"data":{"name":"dom"},"transform":[{"filter":"datum.gene=='BUB1B'"},{"calculate":"(datum.s+datum.e)/2","as":"mid"}],"mark":{"type":"text","color":"#ffffff","fontSize":17,"baseline":"alphabetic","dy":19.5},"encoding":{"x":{"field":"mid","type":"quantitative","axis":null},"y":{"datum":0,"type":"quantitative"},"text":{"field":"name","type":"nominal"}}},
{"mark":{"type":"point","filled":true,"opacity":1,"size":60,"strokeWidth":0},"encoding":{"x":{"field":"p","type":"quantitative","scale":{"domain":[0,1050],"nice":false,"zero":false},"axis":null},"y":{"field":"n","type":"quantitative"},"color":{"field":"t","type":"nominal","scale":{"domain":["M","T","I","O"],"range":["#178a45","#ee3224","#72308d","#231f20"]},"legend":null}}},
{"data":{"name":"prot"},"transform":[{"filter":"datum.gene=='BUB1B'"}],"mark":{"type":"text","align":"left","baseline":"alphabetic","fontSize":17,"color":"#231f20","dy":-10},"encoding":{"x":{"datum":0,"type":"quantitative","axis":null},"y":{"datum":2,"type":"quantitative"},"text":{"field":"name","type":"nominal"}}},
{"data":{"name":"prot"},"transform":[{"filter":"datum.gene=='BUB1B'"},{"calculate":"datum.len+' aa'","as":"lab"}],"mark":{"type":"text","align":"right","baseline":"alphabetic","fontSize":17,"color":"#231f20","dx":14,"dy":35},"encoding":{"x":{"field":"len","type":"quantitative","axis":null},"y":{"datum":0,"type":"quantitative"},"text":{"field":"lab","type":"nominal"}}},
{"data":{"name":"prot"},"transform":[{"filter":"datum.gene=='BUB1B'"}],"mark":{"type":"rule","color":"#231f20","strokeWidth":1,"xOffset":-4},"encoding":{"x":{"datum":0,"type":"quantitative","axis":null},"y":{"datum":0,"type":"quantitative"},"y2":{"datum":2}}}
]},
{"width":466,"height":123,"data":{"name":"TTK"},"layer":[
{"mark":{"type":"rule","color":"#231f20","strokeWidth":1.2,"y2Offset":8},"encoding":{"x":{"field":"p","type":"quantitative","scale":{"domain":[0,857],"nice":false,"zero":false},"axis":null},"y":{"field":"n","type":"quantitative","scale":{"domain":[-3.797,6.203],"nice":false,"zero":false},"axis":{"values":[0,1,2,3,4,5],"tickCount":50,"format":"d","labelExpr":"datum.value==0||datum.value==5?datum.label:''","title":null}},"y2":{"datum":0}}},
{"data":{"name":"prot"},"transform":[{"filter":"datum.gene=='TTK'"}],"mark":{"type":"rule","color":"#77797b","strokeWidth":10,"yOffset":13},"encoding":{"x":{"field":"len","type":"quantitative","axis":null},"x2":{"datum":0},"y":{"datum":0,"type":"quantitative"}}},
{"data":{"name":"dom"},"transform":[{"filter":"datum.gene=='TTK'"}],"mark":{"type":"rule","strokeWidth":18,"yOffset":13},"encoding":{"x":{"field":"s","type":"quantitative","axis":null},"x2":{"field":"e"},"y":{"datum":0,"type":"quantitative"},"stroke":{"field":"kind","type":"nominal","scale":{"domain":["A","B"],"range":["#58b947","#ef6461"]},"legend":null}}},
{"data":{"name":"dom"},"transform":[{"filter":"datum.gene=='TTK'"},{"calculate":"(datum.s+datum.e)/2","as":"mid"}],"mark":{"type":"text","color":"#ffffff","fontSize":17,"baseline":"alphabetic","dy":19},"encoding":{"x":{"field":"mid","type":"quantitative","axis":null},"y":{"datum":0,"type":"quantitative"},"text":{"field":"name","type":"nominal"}}},
{"mark":{"type":"point","filled":true,"opacity":1,"size":55,"strokeWidth":0},"encoding":{"x":{"field":"p","type":"quantitative","scale":{"domain":[0,857],"nice":false,"zero":false},"axis":null},"y":{"field":"n","type":"quantitative"},"color":{"field":"t","type":"nominal","scale":{"domain":["M","T","I","O"],"range":["#178a45","#ee3224","#72308d","#231f20"]},"legend":null}}},
{"data":{"name":"prot"},"transform":[{"filter":"datum.gene=='TTK'"}],"mark":{"type":"text","align":"left","baseline":"alphabetic","fontSize":17,"color":"#231f20","dy":-1.7},"encoding":{"x":{"datum":0,"type":"quantitative","axis":null},"y":{"datum":5,"type":"quantitative"},"text":{"field":"name","type":"nominal"}}},
{"data":{"name":"prot"},"transform":[{"filter":"datum.gene=='TTK'"},{"calculate":"datum.len+' aa'","as":"lab"}],"mark":{"type":"text","align":"right","baseline":"alphabetic","fontSize":17,"color":"#231f20","dx":8,"dy":36.7},"encoding":{"x":{"field":"len","type":"quantitative","axis":null},"y":{"datum":0,"type":"quantitative"},"text":{"field":"lab","type":"nominal"}}},
{"data":{"name":"prot"},"transform":[{"filter":"datum.gene=='TTK'"}],"mark":{"type":"rule","color":"#231f20","strokeWidth":1,"xOffset":-4},"encoding":{"x":{"datum":0,"type":"quantitative","axis":null},"y":{"datum":0,"type":"quantitative"},"y2":{"datum":5}}}
]},
{"width":466,"height":123,"data":{"name":"BUB3"},"layer":[
{"mark":{"type":"rule","color":"#231f20","strokeWidth":1.2,"y2Offset":8},"encoding":{"x":{"field":"p","type":"quantitative","scale":{"domain":[0,328],"nice":false,"zero":false},"axis":null},"y":{"field":"n","type":"quantitative","scale":{"domain":[-3.384,6.456],"nice":false,"zero":false},"axis":{"values":[0,1,2],"tickCount":50,"format":"d","labelExpr":"datum.value==0||datum.value==2?datum.label:''","title":null}},"y2":{"datum":0}}},
{"data":{"name":"prot"},"transform":[{"filter":"datum.gene=='BUB3'"}],"mark":{"type":"rule","color":"#77797b","strokeWidth":10,"yOffset":13.3},"encoding":{"x":{"field":"len","type":"quantitative","axis":null},"x2":{"datum":0},"y":{"datum":0,"type":"quantitative"}}},
{"data":{"name":"dom"},"transform":[{"filter":"datum.gene=='BUB3'"}],"mark":{"type":"rule","strokeWidth":18,"yOffset":13.3},"encoding":{"x":{"field":"s","type":"quantitative","axis":null},"x2":{"field":"e"},"y":{"datum":0,"type":"quantitative"},"stroke":{"field":"kind","type":"nominal","scale":{"domain":["A","B"],"range":["#58b947","#ef6461"]},"legend":null}}},
{"data":{"name":"dom"},"transform":[{"filter":"datum.gene=='BUB3'"},{"calculate":"(datum.s+datum.e)/2","as":"mid"}],"mark":{"type":"text","color":"#ffffff","fontSize":17,"baseline":"alphabetic","dy":19.3},"encoding":{"x":{"field":"mid","type":"quantitative","axis":null},"y":{"datum":0,"type":"quantitative"},"text":{"field":"name","type":"nominal"}}},
{"mark":{"type":"point","filled":true,"opacity":1,"size":60,"strokeWidth":0},"encoding":{"x":{"field":"p","type":"quantitative","scale":{"domain":[0,328],"nice":false,"zero":false},"axis":null},"y":{"field":"n","type":"quantitative"},"color":{"field":"t","type":"nominal","scale":{"domain":["M","T","I","O"],"range":["#178a45","#ee3224","#72308d","#231f20"]},"legend":null}}},
{"data":{"name":"prot"},"transform":[{"filter":"datum.gene=='BUB3'"}],"mark":{"type":"text","align":"left","baseline":"alphabetic","fontSize":17,"color":"#231f20","dy":-2.7},"encoding":{"x":{"datum":0,"type":"quantitative","axis":null},"y":{"datum":2,"type":"quantitative"},"text":{"field":"name","type":"nominal"}}},
{"data":{"name":"prot"},"transform":[{"filter":"datum.gene=='BUB3'"},{"calculate":"datum.len+' aa'","as":"lab"}],"mark":{"type":"text","align":"right","baseline":"alphabetic","fontSize":17,"color":"#231f20","dx":7,"dy":33.3},"encoding":{"x":{"field":"len","type":"quantitative","axis":null},"y":{"datum":0,"type":"quantitative"},"text":{"field":"lab","type":"nominal"}}},
{"data":{"name":"prot"},"transform":[{"filter":"datum.gene=='BUB3'"}],"mark":{"type":"rule","color":"#231f20","strokeWidth":1,"xOffset":-4},"encoding":{"x":{"datum":0,"type":"quantitative","axis":null},"y":{"datum":0,"type":"quantitative"},"y2":{"datum":2}}}
]},
{"width":466,"height":90,"data":{"name":"CENPE"},"layer":[
{"mark":{"type":"rule","color":"#231f20","strokeWidth":1.2,"y2Offset":8},"encoding":{"x":{"field":"p","type":"quantitative","scale":{"domain":[0,1423.8],"nice":false,"zero":false},"axis":null},"y":{"field":"n","type":"quantitative","scale":{"domain":[-2.486,4.573],"nice":false,"zero":false},"axis":{"values":[0,1,2,3,4],"tickCount":50,"format":"d","labelExpr":"datum.value==0||datum.value==4?datum.label:''","title":null}},"y2":{"datum":0}}},
{"data":{"name":"prot"},"transform":[{"filter":"datum.gene=='CENPE'"}],"mark":{"type":"rule","color":"#77797b","strokeWidth":10,"yOffset":12.7},"encoding":{"x":{"field":"len","type":"quantitative","axis":null},"x2":{"datum":0},"y":{"datum":0,"type":"quantitative"}}},
{"data":{"name":"dom"},"transform":[{"filter":"datum.gene=='CENPE'"}],"mark":{"type":"rule","strokeWidth":18,"yOffset":12.7},"encoding":{"x":{"field":"s","type":"quantitative","axis":null},"x2":{"field":"e"},"y":{"datum":0,"type":"quantitative"},"stroke":{"field":"kind","type":"nominal","scale":{"domain":["A","B"],"range":["#58b947","#ef6461"]},"legend":null}}},
{"data":{"name":"dom"},"transform":[{"filter":"datum.gene=='CENPE'"},{"calculate":"(datum.s+datum.e)/2","as":"mid"}],"mark":{"type":"text","color":"#ffffff","fontSize":17,"baseline":"alphabetic","dy":18.7},"encoding":{"x":{"field":"mid","type":"quantitative","axis":null},"y":{"datum":0,"type":"quantitative"},"text":{"field":"name","type":"nominal"}}},
{"mark":{"type":"point","filled":true,"opacity":1,"size":60,"strokeWidth":0},"encoding":{"x":{"field":"p","type":"quantitative","scale":{"domain":[0,1423.8],"nice":false,"zero":false},"axis":null},"y":{"field":"n","type":"quantitative"},"color":{"field":"t","type":"nominal","scale":{"domain":["M","T","I","O"],"range":["#178a45","#ee3224","#72308d","#231f20"]},"legend":null}}},
{"data":{"name":"prot"},"transform":[{"filter":"datum.gene=='CENPE'"}],"mark":{"type":"text","align":"left","baseline":"alphabetic","fontSize":17,"color":"#231f20","dy":2.7},"encoding":{"x":{"datum":0,"type":"quantitative","axis":null},"y":{"datum":4,"type":"quantitative"},"text":{"field":"name","type":"nominal"}}},
{"data":{"name":"prot"},"transform":[{"filter":"datum.gene=='CENPE'"},{"calculate":"datum.len+' aa'","as":"lab"}],"mark":{"type":"text","align":"right","baseline":"alphabetic","fontSize":17,"color":"#231f20","dx":13,"dy":33},"encoding":{"x":{"field":"len","type":"quantitative","axis":null},"y":{"datum":0,"type":"quantitative"},"text":{"field":"lab","type":"nominal"}}},
{"data":{"name":"prot"},"transform":[{"filter":"datum.gene=='CENPE'"}],"mark":{"type":"rule","color":"#231f20","strokeWidth":1,"xOffset":-4},"encoding":{"x":{"datum":0,"type":"quantitative","axis":null},"y":{"datum":0,"type":"quantitative"},"y2":{"datum":4}}}
]}
],
"config":{"view":{"stroke":null},"font":"Liberation Sans","text":{"font":"Liberation Sans"},"axisY":{"domain":false,"grid":false,"ticks":true,"tickSize":5,"tickColor":"#231f20","tickWidth":1,"labelFontSize":16,"labelColor":"#231f20","labelPadding":4,"offset":4,"labelOverlap":false,"labelFont":"Liberation Sans"}}
}
